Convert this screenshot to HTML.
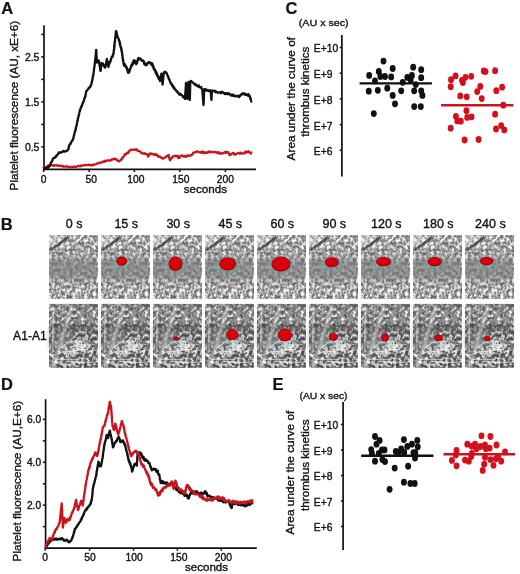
<!DOCTYPE html>
<html><head><meta charset="utf-8"><title>Figure</title>
<style>
html,body{margin:0;padding:0;background:#fff;}
body{width:520px;height:574px;overflow:hidden;}
svg{display:block;filter:blur(0.35px);font-family:"Liberation Sans", sans-serif;}
text{stroke:#111;stroke-width:0.35px;}
text[font-weight=bold]{stroke-width:0.2px;}
</style></head><body>
<svg width="520" height="574" viewBox="0 0 520 574" fill="#111">
<defs><filter id="t1" x="0" y="0" width="100%" height="100%" filterUnits="objectBoundingBox" color-interpolation-filters="sRGB">
<feTurbulence type="fractalNoise" baseFrequency="0.34 0.30" numOctaves="3" seed="3"/>
<feColorMatrix type="matrix" values="1 0 0 0 0  1 0 0 0 0  1 0 0 0 0  0 0 0 0 1"/>
<feComponentTransfer><feFuncR type="table" tableValues="0.36 0.37 0.39 0.43 0.54 0.67 0.84 0.98 1 1 1"/><feFuncG type="table" tableValues="0.36 0.37 0.39 0.43 0.54 0.67 0.84 0.98 1 1 1"/><feFuncB type="table" tableValues="0.36 0.37 0.39 0.43 0.54 0.67 0.84 0.98 1 1 1"/></feComponentTransfer>
<feGaussianBlur stdDeviation="0.3"/>
</filter>
<filter id="t2" x="0" y="0" width="100%" height="100%" filterUnits="objectBoundingBox" color-interpolation-filters="sRGB">
<feTurbulence type="fractalNoise" baseFrequency="0.34 0.30" numOctaves="3" seed="11"/>
<feColorMatrix type="matrix" values="1 0 0 0 0  1 0 0 0 0  1 0 0 0 0  0 0 0 0 1"/>
<feComponentTransfer><feFuncR type="table" tableValues="0.24 0.25 0.27 0.30 0.38 0.50 0.67 0.87 1 1 1"/><feFuncG type="table" tableValues="0.24 0.25 0.27 0.30 0.38 0.50 0.67 0.87 1 1 1"/><feFuncB type="table" tableValues="0.24 0.25 0.27 0.30 0.38 0.50 0.67 0.87 1 1 1"/></feComponentTransfer>
<feGaussianBlur stdDeviation="0.3"/>
</filter>
<filter id="sb" x="-50%" y="-50%" width="200%" height="200%"><feGaussianBlur stdDeviation="1.2"/></filter>
<filter id="sb2" x="-50%" y="-50%" width="200%" height="200%"><feGaussianBlur stdDeviation="2.2"/></filter>
<linearGradient id="band1" x1="0" y1="0" x2="0" y2="1">
<stop offset="0" stop-color="#7a7a7a" stop-opacity="0"/>
<stop offset="0.3" stop-color="#7a7a7a" stop-opacity="0.15"/>
<stop offset="0.4" stop-color="#7c7c7c" stop-opacity="0.62"/>
<stop offset="0.53" stop-color="#7c7c7c" stop-opacity="0.72"/>
<stop offset="0.65" stop-color="#7c7c7c" stop-opacity="0.6"/>
<stop offset="0.76" stop-color="#7a7a7a" stop-opacity="0.12"/>
<stop offset="1" stop-color="#7a7a7a" stop-opacity="0"/>
</linearGradient>
<g id="m1">
<rect width="47.8" height="63.2" filter="url(#t1)"/>
<path d="M0 0 H17 L0 13 Z" fill="#e8e8e8" opacity="0.35"/>
<path d="M1 14.5 L19 1.5" stroke="#333" stroke-width="2.4" opacity="0.75" fill="none"/>
<rect width="47.8" height="63.2" fill="url(#band1)"/>
</g>
<g id="m2">
<rect width="47.8" height="63.6" filter="url(#t2)"/>
<path d="M0 0 H48 V19 H0 Z" fill="#f0f0f0" opacity="0.12"/>
<path d="M0 19 L48 23 L48 29 L0 25 Z" fill="#505050" opacity="0.45" filter="url(#sb)"/>
<path d="M0 25 L26 28 L22 46 L0 44 Z" fill="#7a7a7a" opacity="0.55" filter="url(#sb2)"/>
<path d="M23 0 L4 63" stroke="#ececec" stroke-width="2.6" opacity="0.6" fill="none" filter="url(#sb)"/>
<path d="M3.5 0 L3.5 63" stroke="#e6e6e6" stroke-width="1.6" opacity="0.4" fill="none"/>
<path d="M0 0 H48 V2.5 H0 Z" fill="#555" opacity="0.4" filter="url(#sb)"/>
<path d="M11 44 L19 38 L27 36.5 M30 36 L37 38 L41 43 M13 47.5 L22 46.5 M26 46 L38 45" fill="none" stroke="#fafafa" stroke-width="1.4" opacity="0.6"/>
<path d="M6 55 H30 M22 58 H44 M10 60 H26" stroke="#f4f4f4" stroke-width="1.3" opacity="0.6"/>
<path d="M18.3 45.7 L16.7 44.5 L14.6 44.3 L13.1 43.2 L13.0 41.6 M27.3 43.1 L29.4 43.5 L31.6 43.5 L33.8 43.8 L35.2 42.6 M34.6 39.3 L36.7 39.8 L36.7 41.4 L35.6 42.8 L33.4 43.0 M30.0 36.5 L29.0 37.9 L29.9 39.3 L28.6 40.6 L27.8 42.1 M18.0 47.4 L17.5 49.0 L17.2 50.6 L16.7 52.1 L16.9 53.7 M26.6 38.6 L27.6 40.1 L29.5 40.8 L30.4 42.2 L32.4 42.9 M39.2 48.5 L40.5 47.2 L42.2 46.2 L44.4 45.9 L45.4 44.5 M26.4 47.6 L25.0 48.8 L22.8 48.7 L20.6 48.9 L18.6 49.7 M25.7 41.4 L27.8 40.9 L28.1 39.3 L26.5 38.3 L25.8 36.8 M39.8 42.9 L37.6 42.8 L35.9 41.9 L33.7 41.9 L31.6 41.5 M28.5 44.7 L30.5 45.3 L32.7 45.2 L33.9 46.6 L35.7 47.5 M29.5 40.3 L31.6 39.7 L33.6 40.2 L34.8 41.6 L36.4 42.7 M31.8 45.5 L33.7 46.2 L35.9 46.5 L36.2 48.1 L34.4 49.1 M29.4 48.4 L27.3 48.9 L26.0 50.2 L23.8 50.3 L22.4 51.6 M15.8 47.3 L16.0 45.7 L17.8 44.7 L17.4 43.1 L16.0 41.9 M21.5 41.9 L23.7 41.9 L25.8 41.4 L27.6 42.3 L27.2 43.9 M33.4 42.7 L31.4 43.4 L29.4 44.0 L27.2 43.8 L26.0 45.1 M19.5 47.7 L21.6 47.2 L23.7 46.9 L25.8 46.5 L28.0 46.3 M36.1 40.3 L34.0 40.8 L31.9 40.3 L30.5 41.5 L28.4 42.2 M38.8 36.3 L37.5 35.0 L37.9 33.5 L38.8 32.0 L38.4 30.4 M24.5 49.4 L24.8 47.8 L23.1 46.8 L20.9 47.2 L20.6 48.8 M25.6 38.0 L27.6 37.3 L28.0 35.7 L28.7 34.2 L28.4 32.6" fill="none" stroke="#fff" stroke-width="1.1" opacity="0.75"/>
</g></defs>
<rect width="520" height="574" fill="#fff"/>
<text x="1.2" y="13.5" font-size="16.50" font-weight="bold">A</text>
<text x="18.2" y="190.4" font-size="11.70" textLength="169.5" lengthAdjust="spacingAndGlyphs" transform="rotate(-90 18.2 190.4)">Platelet fluorescence (AU, xE+6)</text>
<line x1="44.0" y1="25.3" x2="44.0" y2="170.2" stroke="#111" stroke-width="1.70"/>
<line x1="43.2" y1="169.4" x2="256.0" y2="169.4" stroke="#111" stroke-width="1.70"/>
<line x1="41.2" y1="146.9" x2="44.0" y2="146.9" stroke="#111" stroke-width="1.50"/>
<line x1="41.2" y1="124.4" x2="44.0" y2="124.4" stroke="#111" stroke-width="1.50"/>
<line x1="41.2" y1="101.9" x2="44.0" y2="101.9" stroke="#111" stroke-width="1.50"/>
<line x1="41.2" y1="79.4" x2="44.0" y2="79.4" stroke="#111" stroke-width="1.50"/>
<line x1="41.2" y1="56.9" x2="44.0" y2="56.9" stroke="#111" stroke-width="1.50"/>
<line x1="41.2" y1="34.4" x2="44.0" y2="34.4" stroke="#111" stroke-width="1.50"/>
<text x="39.4" y="150.6" font-size="10.40" text-anchor="end">0.5</text>
<text x="39.4" y="105.6" font-size="10.40" text-anchor="end">1.5</text>
<text x="39.4" y="60.6" font-size="10.40" text-anchor="end">2.5</text>
<line x1="43.6" y1="169.4" x2="43.6" y2="172.0" stroke="#111" stroke-width="1.50"/>
<text x="43.5" y="183.1" font-size="10.30" text-anchor="middle">0</text>
<line x1="89.2" y1="169.4" x2="89.2" y2="172.0" stroke="#111" stroke-width="1.50"/>
<text x="91.3" y="183.1" font-size="10.30" text-anchor="middle">50</text>
<line x1="134.4" y1="169.4" x2="134.4" y2="172.0" stroke="#111" stroke-width="1.50"/>
<text x="135.9" y="183.1" font-size="10.30" text-anchor="middle">100</text>
<line x1="179.8" y1="169.4" x2="179.8" y2="172.0" stroke="#111" stroke-width="1.50"/>
<text x="180.8" y="183.1" font-size="10.30" text-anchor="middle">150</text>
<line x1="225.4" y1="169.4" x2="225.4" y2="172.0" stroke="#111" stroke-width="1.50"/>
<text x="225.4" y="183.1" font-size="10.30" text-anchor="middle">200</text>
<text x="183.8" y="193.0" font-size="11.00" textLength="43.2" lengthAdjust="spacingAndGlyphs">seconds</text>
<path d="M43.0 168.5 L43.6 167.9 L44.3 167.9 L44.9 167.4 L45.6 167.3 L46.2 166.9 L47.0 166.7 L47.7 165.7 L48.5 165.3 L49.2 165.4 L50.0 165.7 L50.8 165.0 L51.5 164.9 L52.3 165.1 L53.1 165.7 L53.8 165.2 L54.6 165.7 L55.4 165.4 L56.2 165.4 L56.9 165.6 L57.7 165.2 L58.5 165.7 L59.2 166.0 L60.0 165.7 L60.8 165.9 L61.5 166.2 L62.3 166.3 L63.1 165.9 L63.8 166.7 L64.6 166.6 L65.4 166.7 L66.1 166.5 L66.9 166.2 L67.7 167.1 L68.5 166.8 L69.2 167.0 L70.0 167.2 L70.8 166.9 L71.6 167.1 L72.3 167.2 L73.1 166.6 L73.8 167.0 L74.6 166.6 L75.4 167.0 L76.1 166.9 L76.9 166.5 L77.7 166.0 L78.5 165.9 L79.2 165.8 L80.0 166.4 L80.8 165.7 L81.5 165.8 L82.3 165.3 L83.1 165.4 L83.9 165.3 L84.6 165.1 L85.4 165.0 L86.2 165.1 L86.9 165.0 L87.7 165.2 L88.4 164.9 L89.2 164.6 L90.0 165.2 L90.8 165.2 L91.5 165.5 L92.3 165.1 L93.1 165.0 L93.8 164.2 L94.6 164.7 L95.4 164.5 L96.1 164.2 L96.9 163.5 L97.7 163.4 L98.4 163.3 L99.2 162.6 L100.0 163.0 L100.7 162.6 L101.5 162.3 L102.2 161.9 L102.8 161.4 L103.5 162.0 L104.2 161.9 L104.9 160.8 L105.5 161.3 L106.2 160.8 L107.0 160.6 L107.7 160.3 L108.5 160.4 L109.2 160.7 L110.0 160.4 L110.8 160.5 L111.5 159.4 L112.3 159.7 L113.1 159.3 L113.9 158.7 L114.7 159.3 L115.4 158.8 L116.2 158.8 L116.8 159.8 L117.3 160.5 L117.9 160.6 L118.5 161.2 L119.3 161.4 L120.0 160.4 L120.8 160.4 L121.3 159.1 L121.7 159.3 L122.2 157.8 L122.6 157.4 L123.1 157.3 L123.6 156.5 L124.0 156.2 L124.5 154.9 L124.9 154.1 L125.4 154.2 L126.2 154.3 L126.9 152.9 L127.7 152.7 L128.2 152.9 L128.7 152.3 L129.2 151.0 L129.8 150.6 L130.3 150.1 L130.8 149.6 L131.6 149.8 L132.3 149.8 L133.1 149.7 L133.8 149.6 L134.6 149.7 L135.4 150.0 L136.2 149.2 L136.8 149.7 L137.3 150.1 L137.9 151.1 L138.5 151.2 L139.3 151.1 L140.0 151.5 L140.8 152.2 L141.6 153.4 L142.3 153.0 L143.1 153.5 L143.8 153.8 L144.6 153.1 L145.4 153.9 L146.1 154.2 L146.9 154.2 L147.3 154.2 L147.8 155.9 L148.2 156.5 L148.6 156.0 L149.1 154.3 L149.6 154.5 L150.0 153.5 L150.8 153.6 L151.6 154.1 L152.3 153.8 L153.1 154.2 L153.9 154.7 L154.6 155.0 L155.4 154.0 L156.2 155.0 L156.9 154.7 L157.7 156.0 L158.4 156.9 L159.2 156.5 L159.8 156.5 L160.5 157.2 L161.1 157.8 L161.8 157.7 L162.4 158.2 L163.1 158.8 L163.9 158.0 L164.6 157.6 L165.4 157.3 L166.0 157.0 L166.6 156.1 L167.3 155.7 L167.9 155.9 L168.5 155.0 L168.7 154.9 L168.9 156.5 L169.1 157.4 L169.2 157.4 L169.4 157.9 L169.6 159.5 L169.8 159.3 L170.0 160.4 L170.5 159.1 L171.0 158.8 L171.5 158.1 L172.1 158.0 L172.7 156.5 L173.4 156.4 L174.0 156.0 L174.6 155.8 L175.4 156.3 L176.1 155.7 L176.9 156.4 L177.7 155.8 L178.0 156.0 L178.2 157.1 L178.5 158.1 L179.1 157.8 L179.7 157.6 L180.2 156.3 L180.8 155.8 L181.6 155.5 L182.3 155.5 L183.1 156.4 L183.8 156.5 L184.6 155.9 L185.4 156.8 L186.3 156.7 L187.1 155.5 L187.9 155.9 L188.6 155.4 L189.4 156.0 L190.1 155.6 L190.8 155.2 L191.5 155.3 L192.2 154.5 L192.8 153.7 L193.3 152.8 L193.8 152.5 L194.4 152.3 L195.4 152.4 L196.3 151.6 L197.1 151.4 L197.9 151.7 L198.6 152.0 L199.4 152.3 L200.1 152.2 L200.8 152.2 L201.6 153.0 L202.3 151.7 L203.0 151.5 L203.7 153.0 L204.4 152.9 L205.2 153.1 L205.9 152.2 L206.6 152.3 L207.3 152.9 L208.1 152.7 L208.8 151.4 L209.6 152.1 L210.3 151.6 L211.0 152.3 L211.7 152.1 L212.5 152.1 L213.2 151.8 L213.9 152.3 L214.6 152.1 L215.3 152.0 L216.0 151.9 L216.8 152.8 L217.5 152.4 L218.2 153.3 L218.9 152.2 L219.6 153.0 L220.3 153.6 L221.1 153.2 L221.8 153.5 L222.5 153.4 L223.3 153.3 L224.0 152.6 L224.7 152.7 L225.4 151.7 L226.2 152.8 L226.9 151.9 L227.6 152.0 L228.3 152.3 L228.7 153.3 L229.0 153.8 L229.3 154.3 L229.7 155.2 L230.4 155.2 L231.2 153.8 L231.9 153.7 L232.6 153.0 L233.3 153.0 L233.8 153.1 L234.3 154.6 L234.8 154.5 L235.5 154.1 L236.2 154.3 L236.9 153.5 L237.6 153.2 L238.4 152.8 L239.1 153.3 L239.8 153.7 L240.6 152.6 L241.3 153.0 L242.0 153.5 L242.8 153.7 L243.5 153.5 L244.2 153.0 L244.9 153.2 L245.6 151.5 L246.3 152.2 L247.0 151.6 L247.7 152.4 L248.5 151.3 L249.2 152.3 L249.9 152.5 L250.7 153.5 L251.4 152.4 L252.1 152.0" fill="none" stroke="#c8141c" stroke-width="2.3" stroke-linejoin="round"/>
<path d="M43.8 169.0 L44.3 168.5 L44.9 168.2 L45.4 168.5 L46.0 168.0 L46.5 168.3 L47.0 167.5 L47.5 167.5 L48.1 167.8 L48.6 167.0 L49.1 166.8 L49.5 166.3 L50.0 165.4 L50.2 164.6 L50.4 164.4 L50.6 163.6 L50.9 163.0 L51.1 162.4 L51.3 162.0 L51.5 161.8 L51.8 161.8 L52.0 161.1 L52.3 160.6 L52.6 160.0 L52.8 158.8 L53.1 158.6 L53.6 158.0 L54.0 158.1 L54.5 157.9 L54.9 157.7 L55.4 156.9 L55.8 157.0 L56.2 155.6 L56.5 155.8 L56.9 155.5 L57.3 154.9 L57.7 154.5 L58.1 153.6 L58.5 153.4 L58.8 152.4 L59.2 152.3 L59.8 152.8 L60.4 152.7 L60.9 152.4 L61.5 152.3 L62.1 151.7 L62.6 152.0 L63.2 151.3 L63.8 150.8 L64.3 151.5 L64.9 151.7 L65.4 151.5 L65.9 151.3 L66.4 150.9 L66.9 150.8 L67.3 150.5 L67.7 149.9 L68.1 149.2 L68.5 149.2 L68.6 148.4 L68.7 148.5 L68.8 147.0 L68.9 146.5 L69.0 146.6 L69.1 145.7 L69.2 145.4 L69.5 145.0 L69.8 144.4 L70.2 143.8 L70.5 144.2 L70.8 143.1 L71.1 142.2 L71.4 142.0 L71.7 141.3 L71.9 141.3 L72.2 140.4 L72.5 140.0 L72.8 140.0 L73.1 139.2 L73.2 138.4 L73.4 138.2 L73.5 138.0 L73.6 136.5 L73.8 135.9 L73.9 135.5 L74.1 135.6 L74.2 134.9 L74.3 133.9 L74.5 133.5 L74.6 133.1 L74.7 132.1 L74.9 131.9 L75.0 130.9 L75.2 131.1 L75.3 130.8 L75.5 130.3 L75.6 129.4 L75.8 129.1 L75.9 127.4 L76.1 127.2 L76.2 126.9 L76.3 126.9 L76.4 126.1 L76.6 125.1 L76.7 125.2 L76.8 124.2 L76.9 123.9 L77.0 122.7 L77.2 122.0 L77.3 121.8 L77.4 120.8 L77.5 120.6 L77.7 120.7 L77.8 119.4 L77.9 118.4 L78.0 117.9 L78.1 117.5 L78.3 117.7 L78.4 116.6 L78.5 116.2 L78.6 115.4 L78.8 114.7 L78.9 115.2 L79.1 114.0 L79.2 113.2 L79.4 112.5 L79.5 111.9 L79.7 111.6 L79.8 111.6 L79.9 110.5 L80.1 109.8 L80.2 109.8 L80.4 109.0 L80.5 109.4 L80.7 107.8 L80.8 107.7 L81.0 107.2 L81.3 107.0 L81.5 106.0 L81.8 106.2 L82.0 105.1 L82.3 104.6 L82.5 103.7 L82.7 103.4 L82.9 102.4 L83.2 102.3 L83.4 101.6 L83.6 101.8 L83.8 100.8 L84.0 100.6 L84.2 99.6 L84.4 98.5 L84.6 98.2 L84.8 97.6 L85.0 97.0 L85.2 96.5 L85.4 96.2 L85.5 96.1 L85.6 94.7 L85.7 94.0 L85.8 94.5 L85.8 93.5 L85.9 93.5 L86.0 92.2 L86.1 92.2 L86.2 91.2 L86.7 90.9 L87.1 90.5 L87.5 90.0 L88.0 89.2 L88.4 88.7 L88.8 87.7 L89.2 87.4 L89.6 87.7 L90.0 87.3 L90.4 86.3 L90.6 86.2 L90.8 85.0 L91.1 84.8 L91.3 84.4 L91.5 83.5 L91.6 83.1 L91.7 82.8 L91.8 81.9 L91.9 81.5 L92.1 81.0 L92.2 80.0 L92.3 80.2 L92.4 79.7 L92.5 78.1 L92.6 78.7 L92.7 78.1 L92.8 77.2 L92.9 75.9 L93.1 76.4 L93.2 75.0 L93.3 75.4 L93.4 74.5 L93.5 73.8 L93.6 72.7 L93.6 72.3 L93.7 72.3 L93.8 71.7 L93.8 71.4 L93.9 71.0 L94.0 69.6 L94.0 68.8 L94.1 69.4 L94.2 67.8 L94.2 68.2 L94.3 66.8 L94.4 67.1 L94.5 66.5 L94.5 66.1 L94.6 65.1 L94.7 65.0 L94.7 63.6 L94.8 63.6 L94.9 62.7 L94.9 62.8 L95.0 62.1 L95.1 61.2 L95.1 60.7 L95.2 59.0 L95.3 58.5 L95.3 59.3 L95.4 58.5 L95.5 57.9 L95.5 58.2 L95.6 57.0 L95.6 55.3 L95.7 55.3 L95.7 55.7 L95.8 54.5 L95.8 52.7 L95.9 54.1 L95.9 53.5 L96.0 51.1 L96.0 51.6 L96.1 50.7 L96.1 51.1 L96.2 49.8 L96.2 49.9 L96.3 50.3 L96.3 51.5 L96.3 53.2 L96.4 51.7 L96.4 52.3 L96.4 54.1 L96.5 55.3 L96.5 54.9 L96.5 55.3 L96.6 56.9 L96.6 57.3 L96.6 56.1 L96.6 58.7 L96.7 57.6 L96.7 58.4 L96.7 60.3 L96.8 59.8 L96.8 61.3 L96.8 60.4 L96.9 62.6 L96.9 62.3 L97.4 61.0 L97.8 60.5 L98.2 60.9 L98.7 60.4 L98.8 60.6 L98.9 61.6 L99.0 63.0 L99.1 63.1 L99.2 62.0 L99.3 63.3 L99.4 64.4 L99.5 64.8 L99.6 65.9 L99.7 65.9 L99.8 65.5 L99.9 66.5 L100.0 68.5 L100.1 67.9 L100.2 69.4 L100.3 70.5 L100.4 70.2 L100.5 70.9 L100.6 71.0 L100.7 70.7 L100.7 69.5 L100.8 70.3 L100.9 68.7 L100.9 69.2 L101.0 67.2 L101.0 68.0 L101.1 67.3 L101.2 66.3 L101.2 65.4 L101.3 64.1 L101.4 65.1 L101.4 63.5 L101.5 63.3 L101.9 64.1 L102.3 63.2 L102.7 63.4 L103.1 64.0 L103.5 65.2 L104.0 66.4 L104.5 65.4 L104.9 67.6 L105.4 67.1 L105.5 66.2 L105.6 66.2 L105.7 65.1 L105.9 65.2 L106.0 63.4 L106.1 63.6 L106.2 64.3 L106.3 61.9 L106.4 62.5 L106.5 61.2 L106.7 60.6 L106.8 59.4 L106.9 58.8 L107.0 59.4 L107.1 61.0 L107.2 61.3 L107.3 61.8 L107.4 62.4 L107.5 63.3 L107.7 62.0 L107.8 63.6 L107.9 63.9 L108.0 64.7 L108.1 66.1 L108.2 66.3 L108.3 66.2 L108.5 66.8 L108.7 64.2 L108.9 64.9 L109.1 64.4 L109.3 64.0 L109.5 63.2 L109.8 63.1 L110.0 61.3 L110.2 62.3 L110.4 60.5 L110.6 60.4 L110.8 60.6 L111.0 59.5 L111.2 58.5 L111.5 57.5 L111.7 56.8 L112.0 56.5 L112.2 56.7 L112.5 57.0 L112.7 56.3 L113.0 54.5 L113.2 54.0 L113.5 53.7 L113.6 53.9 L113.6 52.1 L113.7 51.8 L113.8 50.3 L113.8 50.2 L113.9 50.5 L113.9 50.3 L114.0 49.5 L114.1 48.4 L114.1 49.2 L114.2 47.9 L114.2 46.2 L114.3 45.4 L114.4 47.1 L114.4 46.5 L114.5 45.8 L114.6 44.5 L114.6 43.3 L114.7 42.2 L114.8 42.0 L114.8 41.4 L114.9 42.5 L114.9 41.9 L115.0 41.0 L115.1 39.0 L115.1 38.6 L115.2 38.2 L115.2 39.2 L115.3 36.8 L115.4 37.7 L115.4 36.9 L115.5 36.1 L115.6 36.5 L115.6 34.3 L115.7 34.3 L115.8 32.9 L115.8 32.2 L115.9 31.5 L115.9 31.6 L116.0 31.5 L116.2 31.1 L116.4 31.5 L116.6 34.3 L116.8 33.2 L117.0 35.2 L117.2 35.3 L117.4 35.9 L117.6 36.3 L117.8 37.5 L118.0 37.9 L118.2 38.1 L118.4 38.2 L118.6 39.1 L118.8 39.2 L118.9 40.3 L119.1 40.4 L119.2 40.9 L119.4 40.6 L119.5 42.8 L119.6 42.5 L119.8 42.0 L119.9 42.8 L120.0 45.1 L120.2 44.1 L120.3 45.0 L120.5 46.3 L120.6 47.2 L120.7 46.5 L120.9 47.2 L121.0 47.9 L121.1 47.5 L121.3 50.0 L121.4 48.5 L121.6 51.4 L121.7 50.8 L121.8 50.5 L121.9 51.1 L122.0 53.3 L122.0 53.8 L122.1 52.9 L122.2 54.3 L122.3 54.7 L122.4 55.8 L122.5 55.1 L122.5 57.2 L122.6 58.1 L122.7 58.0 L122.8 59.1 L122.9 59.7 L123.0 58.9 L123.0 60.6 L123.1 61.1 L123.2 61.1 L123.3 60.5 L123.4 62.3 L123.5 63.5 L123.5 62.6 L123.6 64.0 L123.7 64.2 L124.1 65.6 L124.5 65.3 L124.9 64.3 L125.3 66.2 L125.7 65.7 L126.1 67.5 L126.5 67.1 L126.7 68.0 L126.9 67.7 L127.0 69.6 L127.2 69.5 L127.4 69.4 L127.6 71.1 L127.8 71.7 L128.0 72.3 L128.1 72.8 L128.3 72.8 L128.5 72.9 L128.7 72.9 L128.9 72.1 L129.1 71.4 L129.4 72.0 L129.6 70.0 L129.8 68.8 L130.0 69.8 L130.2 68.8 L130.4 68.4 L130.7 68.0 L130.9 66.6 L131.1 66.0 L131.3 66.2 L131.6 64.6 L131.8 65.8 L132.1 65.6 L132.4 64.6 L132.6 62.6 L132.9 64.2 L133.1 63.3 L133.4 62.0 L133.7 60.3 L133.9 61.8 L134.2 60.4 L134.5 61.2 L134.8 61.8 L135.1 60.9 L135.3 63.1 L135.6 62.0 L135.9 63.6 L136.2 64.2 L136.4 62.8 L136.6 62.8 L136.8 63.6 L137.0 62.7 L137.2 62.4 L137.4 60.6 L137.6 60.3 L137.8 60.3 L138.0 58.4 L138.2 58.8 L138.4 59.7 L138.6 58.0 L139.2 58.9 L139.8 59.5 L140.4 58.4 L141.0 59.2 L141.4 60.1 L141.8 60.7 L142.2 60.9 L142.6 60.6 L143.0 60.4 L143.4 61.6 L143.7 61.0 L144.1 63.6 L144.4 64.2 L144.8 63.1 L145.1 64.8 L145.5 64.5 L145.8 65.2 L146.2 65.1 L146.6 65.2 L147.0 63.6 L147.4 63.9 L147.8 62.6 L148.2 62.8 L148.8 63.0 L149.4 61.9 L150.0 62.6 L150.6 62.8 L151.2 64.5 L151.8 63.6 L152.0 63.2 L152.3 65.3 L152.5 64.2 L152.8 66.8 L153.0 65.4 L153.2 65.7 L153.5 66.5 L153.7 68.8 L154.0 68.7 L154.2 68.8 L154.5 70.3 L154.7 69.8 L155.0 69.4 L155.2 70.5 L155.5 71.3 L155.7 73.1 L156.0 71.6 L156.3 72.3 L156.5 74.3 L156.8 73.0 L157.0 75.6 L157.3 74.5 L157.5 75.6 L157.8 76.0 L158.1 76.9 L158.3 78.1 L158.6 76.6 L158.9 79.0 L159.1 78.0 L159.4 79.8 L159.7 78.7 L159.9 81.0 L160.2 80.9 L160.3 79.8 L160.4 79.3 L160.5 78.4 L160.6 78.4 L160.7 77.8 L160.8 78.4 L160.8 77.2 L160.9 76.2 L161.0 76.8 L161.1 74.8 L161.2 74.3 L161.3 75.1 L161.4 73.7 L161.5 75.1 L161.5 75.2 L161.6 76.3 L161.7 75.2 L161.7 77.3 L161.8 77.5 L161.8 78.0 L161.9 78.9 L162.0 78.1 L162.0 78.8 L162.1 79.3 L162.2 80.5 L162.2 81.2 L162.3 81.7 L162.3 82.0 L162.4 83.2 L162.5 84.0 L162.5 84.4 L162.6 84.5 L162.7 83.1 L162.7 82.7 L162.8 82.3 L162.8 81.7 L162.9 81.8 L162.9 80.5 L163.0 80.7 L163.1 79.6 L163.1 79.1 L163.2 79.2 L163.2 79.0 L163.3 77.1 L163.3 76.8 L163.4 77.4 L163.5 75.4 L163.5 74.5 L163.6 74.2 L163.6 74.8 L163.7 74.1 L163.7 73.9 L163.8 72.5 L164.4 72.5 L165.1 71.7 L165.7 72.2 L166.3 72.5 L166.5 73.4 L166.7 73.4 L167.0 73.5 L167.2 74.5 L167.4 75.2 L167.6 75.5 L167.8 76.2 L168.0 76.2 L168.3 76.6 L168.5 78.5 L168.7 78.5 L169.0 79.5 L169.2 79.4 L169.5 79.4 L169.7 80.3 L170.0 81.3 L170.2 82.4 L170.5 82.2 L170.7 83.6 L171.0 83.3 L171.3 83.8 L171.6 83.7 L171.9 85.0 L172.2 85.5 L172.5 86.0 L172.8 86.7 L173.2 85.9 L173.5 87.2 L173.8 88.3 L174.1 87.6 L174.4 88.0 L174.7 89.3 L175.1 89.1 L175.5 89.7 L175.9 90.4 L176.3 90.6 L176.7 91.5 L177.1 91.1 L177.5 91.8 L177.9 92.8 L178.3 92.9 L178.8 93.3 L179.3 94.4 L179.8 94.7 L180.4 93.8 L180.9 94.3 L181.4 95.0 L181.9 95.3 L182.3 95.8 L182.7 95.9 L183.1 97.2 L183.5 96.4 L183.9 97.2 L184.3 97.7 L184.7 97.6 L185.0 98.9 L185.0 99.0 L185.1 98.0 L185.1 98.1 L185.1 96.0 L185.2 96.5 L185.2 95.7 L185.2 94.2 L185.3 95.0 L185.3 94.6 L185.4 92.6 L185.4 93.6 L185.4 92.7 L185.5 91.8 L185.5 91.2 L185.5 90.1 L185.6 89.2 L185.6 89.4 L185.6 89.5 L185.7 87.8 L185.7 87.7 L185.8 86.8 L185.8 87.0 L185.8 86.9 L185.9 86.2 L185.9 84.6 L185.9 84.3 L186.0 83.0 L186.0 83.3 L186.1 83.9 L186.1 85.1 L186.2 85.6 L186.2 84.8 L186.2 86.0 L186.3 85.9 L186.3 87.1 L186.4 88.5 L186.4 87.9 L186.5 89.5 L186.6 90.2 L186.6 90.6 L186.7 90.0 L186.7 91.9 L186.8 92.4 L186.8 93.1 L186.8 91.9 L186.9 92.4 L187.0 93.5 L187.0 94.5 L187.1 94.9 L187.1 94.8 L187.2 96.4 L187.2 97.0 L187.2 97.5 L187.3 97.8 L187.3 98.4 L187.4 98.9 L187.4 98.7 L187.5 97.0 L187.5 97.1 L187.5 96.0 L187.6 95.4 L187.6 96.0 L187.6 94.6 L187.7 94.1 L187.7 93.4 L187.7 93.4 L187.8 92.0 L187.8 92.4 L187.8 90.8 L187.9 91.8 L187.9 89.8 L187.9 90.4 L188.0 89.4 L188.0 88.6 L188.0 87.8 L188.1 87.4 L188.1 87.5 L188.1 86.6 L188.2 86.0 L188.2 84.9 L188.2 85.0 L188.3 83.7 L188.3 83.7 L188.3 83.4 L188.4 82.6 L188.4 82.0 L188.4 82.7 L188.5 83.3 L188.5 83.1 L188.6 85.1 L188.6 85.1 L188.7 85.8 L188.7 86.8 L188.8 86.4 L188.8 86.8 L188.8 87.3 L188.9 87.9 L188.9 88.4 L189.0 89.0 L189.0 89.4 L189.1 90.4 L189.1 90.6 L189.1 91.3 L189.2 92.4 L189.2 92.4 L189.3 93.9 L189.3 94.3 L189.4 94.1 L189.4 95.5 L189.5 94.9 L189.5 95.3 L189.5 97.5 L189.6 96.3 L189.6 96.9 L189.7 99.0 L189.7 98.0 L189.8 99.7 L189.8 100.0 L189.8 99.6 L189.8 98.4 L189.8 97.9 L189.9 98.6 L189.9 97.1 L189.9 96.2 L189.9 96.0 L189.9 96.0 L189.9 94.7 L189.9 93.8 L190.0 94.5 L190.0 92.7 L190.0 92.0 L190.0 91.4 L190.0 92.6 L190.0 91.1 L190.1 91.1 L190.1 90.2 L190.1 90.4 L190.1 88.7 L190.1 88.2 L190.1 88.2 L190.1 86.5 L190.2 86.6 L190.2 86.7 L190.2 85.8 L190.2 85.1 L190.2 85.4 L190.2 83.9 L190.2 83.9 L190.3 82.8 L190.3 81.7 L190.3 81.6 L190.3 81.3 L190.8 81.1 L191.3 81.0 L191.8 81.8 L192.4 81.8 L192.9 82.7 L193.4 83.4 L193.9 83.3 L194.4 84.1 L194.9 84.7 L195.4 84.0 L196.0 85.0 L196.5 85.7 L197.0 85.2 L197.5 85.7 L198.1 86.6 L198.7 85.4 L199.3 87.1 L199.9 87.2 L200.5 87.6 L201.1 86.9 L201.4 88.1 L201.7 88.5 L202.0 88.6 L202.3 89.3 L202.3 90.3 L202.4 91.1 L202.4 91.1 L202.5 91.8 L202.5 92.9 L202.6 92.3 L202.6 92.9 L202.6 92.9 L202.7 95.0 L202.7 95.1 L202.8 95.8 L202.8 95.6 L202.9 96.0 L202.9 97.1 L202.9 98.4 L203.0 98.0 L203.0 98.7 L203.1 99.2 L203.1 100.6 L203.2 99.8 L203.2 101.7 L203.2 100.8 L203.3 102.6 L203.3 103.2 L203.4 103.3 L203.4 104.3 L203.5 104.0 L203.5 105.0 L203.5 103.8 L203.6 103.6 L203.6 102.9 L203.6 103.1 L203.6 102.3 L203.7 101.9 L203.7 101.9 L203.7 101.0 L203.7 100.5 L203.8 100.2 L203.8 99.6 L203.8 98.7 L203.8 97.4 L203.8 97.2 L203.9 97.0 L203.9 96.5 L203.9 96.2 L203.9 95.3 L204.0 94.7 L204.0 93.3 L204.0 93.4 L204.0 92.1 L204.1 92.4 L204.1 91.0 L204.1 90.1 L204.1 91.2 L204.2 90.5 L204.2 89.3 L204.8 89.2 L205.4 89.0 L205.9 90.6 L206.5 90.7 L207.1 90.5 L207.7 89.9 L208.3 91.1 L208.9 91.1 L209.5 90.6 L210.1 90.1 L210.7 90.5 L210.7 90.3 L210.8 90.8 L210.8 92.1 L210.9 93.1 L210.9 93.5 L210.9 93.4 L211.0 94.9 L211.0 94.2 L211.1 95.7 L211.1 95.5 L211.2 95.8 L211.2 96.7 L211.2 98.3 L211.3 97.8 L211.3 98.0 L211.4 99.4 L211.4 100.0 L211.4 99.2 L211.5 99.0 L211.5 98.5 L211.5 98.1 L211.6 97.9 L211.6 96.3 L211.6 96.3 L211.7 94.8 L211.7 94.5 L211.7 93.6 L211.7 94.5 L211.8 93.0 L211.8 93.1 L211.8 92.8 L211.9 91.4 L211.9 91.0 L212.5 90.6 L213.1 90.7 L213.7 91.2 L214.3 91.1 L214.9 90.7 L215.5 92.2 L216.1 91.9 L216.7 91.7 L217.3 92.5 L217.8 92.5 L218.4 92.4 L218.9 92.7 L219.5 92.5 L220.0 92.1 L220.6 92.9 L221.1 93.2 L221.7 91.8 L222.2 92.0 L222.8 92.1 L223.3 92.7 L223.9 92.9 L224.5 93.7 L225.0 93.2 L225.6 94.0 L226.1 93.2 L226.7 93.7 L227.3 93.3 L227.8 94.2 L228.4 93.7 L229.0 93.3 L229.5 94.2 L230.1 94.6 L230.6 95.3 L231.2 94.8 L231.8 94.5 L232.3 95.8 L232.9 95.7 L233.4 94.6 L234.0 95.9 L234.6 96.3 L235.1 96.4 L235.7 96.1 L236.2 95.6 L236.8 96.0 L237.4 96.3 L237.9 96.4 L238.5 95.7 L239.0 97.1 L239.6 96.5 L240.0 96.2 L240.5 95.0 L240.9 95.0 L241.4 94.2 L241.8 94.5 L242.3 93.4 L242.8 93.8 L243.2 93.4 L243.7 93.2 L244.2 94.4 L244.7 94.5 L245.3 93.6 L245.8 95.0 L246.3 94.7 L246.8 94.8 L247.4 94.5 L248.0 95.8 L248.6 94.3 L249.2 95.3 L249.4 95.7 L249.6 96.6 L249.9 96.3 L250.1 97.5 L250.3 98.7 L250.5 98.3 L250.7 99.5 L250.9 99.1 L251.2 101.1 L251.4 101.6 L251.6 101.3" fill="none" stroke="#111" stroke-width="2.3" stroke-linejoin="round"/>
<text x="285.4" y="13.6" font-size="16.50" font-weight="bold">C</text>
<text x="298.8" y="26.1" font-size="9.70" textLength="49.8" lengthAdjust="spacingAndGlyphs">(AU x sec)</text>
<line x1="341.9" y1="35.0" x2="341.9" y2="176.5" stroke="#111" stroke-width="1.70"/>
<line x1="339.7" y1="47.5" x2="341.9" y2="47.5" stroke="#111" stroke-width="1.50"/>
<text x="313.8" y="52.4" font-size="10.30">E+10</text>
<line x1="339.7" y1="73.2" x2="341.9" y2="73.2" stroke="#111" stroke-width="1.50"/>
<text x="313.8" y="78.1" font-size="10.30">E+9</text>
<line x1="339.7" y1="98.9" x2="341.9" y2="98.9" stroke="#111" stroke-width="1.50"/>
<text x="313.8" y="103.8" font-size="10.30">E+8</text>
<line x1="339.7" y1="124.6" x2="341.9" y2="124.6" stroke="#111" stroke-width="1.50"/>
<text x="313.8" y="129.5" font-size="10.30">E+7</text>
<line x1="339.7" y1="150.3" x2="341.9" y2="150.3" stroke="#111" stroke-width="1.50"/>
<text x="313.8" y="155.2" font-size="10.30">E+6</text>
<text x="294.6" y="160.4" font-size="11.60" textLength="123.4" lengthAdjust="spacingAndGlyphs" transform="rotate(-90 294.6 160.4)">Area under the curve of</text>
<text x="308.6" y="136.8" font-size="11.60" textLength="90.1" lengthAdjust="spacingAndGlyphs" transform="rotate(-90 308.6 136.8)">thrombus kinetics</text>
<ellipse cx="369.2" cy="75.4" rx="2.95" ry="3.4" fill="#111"/>
<ellipse cx="368.8" cy="91.2" rx="2.95" ry="3.4" fill="#111"/>
<ellipse cx="373.8" cy="113.6" rx="2.95" ry="3.4" fill="#111"/>
<ellipse cx="375.0" cy="80.8" rx="2.95" ry="3.4" fill="#111"/>
<ellipse cx="377.8" cy="90.3" rx="2.95" ry="3.4" fill="#111"/>
<ellipse cx="378.8" cy="71.5" rx="2.95" ry="3.4" fill="#111"/>
<ellipse cx="380.4" cy="76.5" rx="2.95" ry="3.4" fill="#111"/>
<ellipse cx="383.5" cy="61.1" rx="2.95" ry="3.4" fill="#111"/>
<ellipse cx="385.0" cy="76.5" rx="2.95" ry="3.4" fill="#111"/>
<ellipse cx="387.3" cy="88.2" rx="2.95" ry="3.4" fill="#111"/>
<ellipse cx="391.2" cy="76.9" rx="2.95" ry="3.4" fill="#111"/>
<ellipse cx="392.7" cy="68.5" rx="2.95" ry="3.4" fill="#111"/>
<ellipse cx="392.7" cy="95.4" rx="2.95" ry="3.4" fill="#111"/>
<ellipse cx="395.0" cy="103.8" rx="2.95" ry="3.4" fill="#111"/>
<ellipse cx="401.2" cy="90.8" rx="2.95" ry="3.4" fill="#111"/>
<ellipse cx="402.7" cy="82.3" rx="2.95" ry="3.4" fill="#111"/>
<ellipse cx="407.3" cy="77.4" rx="2.95" ry="3.4" fill="#111"/>
<ellipse cx="411.9" cy="75.4" rx="2.95" ry="3.4" fill="#111"/>
<ellipse cx="413.2" cy="67.2" rx="2.95" ry="3.4" fill="#111"/>
<ellipse cx="414.2" cy="90.8" rx="2.95" ry="3.4" fill="#111"/>
<ellipse cx="414.2" cy="106.6" rx="2.95" ry="3.4" fill="#111"/>
<ellipse cx="415.8" cy="84.6" rx="2.95" ry="3.4" fill="#111"/>
<ellipse cx="421.2" cy="69.7" rx="2.95" ry="3.4" fill="#111"/>
<ellipse cx="421.2" cy="77.7" rx="2.95" ry="3.4" fill="#111"/>
<ellipse cx="421.2" cy="90.8" rx="2.95" ry="3.4" fill="#111"/>
<ellipse cx="422.4" cy="95.4" rx="2.95" ry="3.4" fill="#111"/>
<ellipse cx="420.8" cy="106.6" rx="2.95" ry="3.4" fill="#111"/>
<ellipse cx="410.7" cy="80.0" rx="2.95" ry="3.4" fill="#111"/>
<line x1="359.6" y1="83.4" x2="431.9" y2="83.4" stroke="#111" stroke-width="2.40"/>
<ellipse cx="451.0" cy="79.7" rx="2.95" ry="3.4" fill="#d4101a"/>
<ellipse cx="450.7" cy="86.7" rx="2.95" ry="3.4" fill="#d4101a"/>
<ellipse cx="455.6" cy="75.9" rx="2.95" ry="3.4" fill="#d4101a"/>
<ellipse cx="460.3" cy="95.9" rx="2.95" ry="3.4" fill="#d4101a"/>
<ellipse cx="462.0" cy="80.3" rx="2.95" ry="3.4" fill="#d4101a"/>
<ellipse cx="462.9" cy="82.5" rx="2.95" ry="3.4" fill="#d4101a"/>
<ellipse cx="465.5" cy="77.3" rx="2.95" ry="3.4" fill="#d4101a"/>
<ellipse cx="466.7" cy="96.8" rx="2.95" ry="3.4" fill="#d4101a"/>
<ellipse cx="471.2" cy="76.3" rx="2.95" ry="3.4" fill="#d4101a"/>
<ellipse cx="466.4" cy="110.7" rx="2.95" ry="3.4" fill="#d4101a"/>
<ellipse cx="467.2" cy="117.4" rx="2.95" ry="3.4" fill="#d4101a"/>
<ellipse cx="471.6" cy="116.8" rx="2.95" ry="3.4" fill="#d4101a"/>
<ellipse cx="455.9" cy="116.3" rx="2.95" ry="3.4" fill="#d4101a"/>
<ellipse cx="457.3" cy="120.9" rx="2.95" ry="3.4" fill="#d4101a"/>
<ellipse cx="460.8" cy="121.2" rx="2.95" ry="3.4" fill="#d4101a"/>
<ellipse cx="450.7" cy="128.2" rx="2.95" ry="3.4" fill="#d4101a"/>
<ellipse cx="464.6" cy="140.0" rx="2.95" ry="3.4" fill="#d4101a"/>
<ellipse cx="478.6" cy="139.5" rx="2.95" ry="3.4" fill="#d4101a"/>
<ellipse cx="477.2" cy="91.6" rx="2.95" ry="3.4" fill="#d4101a"/>
<ellipse cx="480.3" cy="86.4" rx="2.95" ry="3.4" fill="#d4101a"/>
<ellipse cx="481.7" cy="98.6" rx="2.95" ry="3.4" fill="#d4101a"/>
<ellipse cx="483.8" cy="71.0" rx="2.95" ry="3.4" fill="#d4101a"/>
<ellipse cx="485.5" cy="71.6" rx="2.95" ry="3.4" fill="#d4101a"/>
<ellipse cx="495.1" cy="70.7" rx="2.95" ry="3.4" fill="#d4101a"/>
<ellipse cx="496.3" cy="90.7" rx="2.95" ry="3.4" fill="#d4101a"/>
<ellipse cx="502.1" cy="87.2" rx="2.95" ry="3.4" fill="#d4101a"/>
<ellipse cx="503.3" cy="105.2" rx="2.95" ry="3.4" fill="#d4101a"/>
<ellipse cx="495.1" cy="114.2" rx="2.95" ry="3.4" fill="#d4101a"/>
<ellipse cx="496.0" cy="129.0" rx="2.95" ry="3.4" fill="#d4101a"/>
<ellipse cx="501.2" cy="125.6" rx="2.95" ry="3.4" fill="#d4101a"/>
<ellipse cx="504.3" cy="129.9" rx="2.95" ry="3.4" fill="#d4101a"/>
<line x1="441.1" y1="105.2" x2="513.4" y2="105.2" stroke="#c8141c" stroke-width="2.40"/>
<text x="272.6" y="390.3" font-size="16.50" font-weight="bold">E</text>
<text x="299.5" y="399.0" font-size="9.70" textLength="48.0" lengthAdjust="spacingAndGlyphs">(AU x sec)</text>
<line x1="343.1" y1="402.0" x2="343.1" y2="550.0" stroke="#111" stroke-width="1.70"/>
<line x1="340.9" y1="424.5" x2="343.1" y2="424.5" stroke="#111" stroke-width="1.50"/>
<text x="313.8" y="429.4" font-size="10.30">E+10</text>
<line x1="340.9" y1="450.0" x2="343.1" y2="450.0" stroke="#111" stroke-width="1.50"/>
<text x="313.8" y="454.9" font-size="10.30">E+9</text>
<line x1="340.9" y1="475.5" x2="343.1" y2="475.5" stroke="#111" stroke-width="1.50"/>
<text x="313.8" y="480.4" font-size="10.30">E+8</text>
<line x1="340.9" y1="501.0" x2="343.1" y2="501.0" stroke="#111" stroke-width="1.50"/>
<text x="313.8" y="505.9" font-size="10.30">E+7</text>
<line x1="340.9" y1="526.5" x2="343.1" y2="526.5" stroke="#111" stroke-width="1.50"/>
<text x="313.8" y="531.4" font-size="10.30">E+6</text>
<text x="294.4" y="534.5" font-size="11.60" textLength="123.8" lengthAdjust="spacingAndGlyphs" transform="rotate(-90 294.4 534.5)">Area under the curve of</text>
<text x="309.0" y="511.0" font-size="11.60" textLength="91.6" lengthAdjust="spacingAndGlyphs" transform="rotate(-90 309.0 511.0)">thrombus kinetics</text>
<ellipse cx="375.0" cy="436.5" rx="2.95" ry="3.4" fill="#111"/>
<ellipse cx="379.6" cy="440.4" rx="2.95" ry="3.4" fill="#111"/>
<ellipse cx="376.5" cy="444.2" rx="2.95" ry="3.4" fill="#111"/>
<ellipse cx="371.2" cy="449.6" rx="2.95" ry="3.4" fill="#111"/>
<ellipse cx="371.9" cy="453.5" rx="2.95" ry="3.4" fill="#111"/>
<ellipse cx="378.8" cy="453.5" rx="2.95" ry="3.4" fill="#111"/>
<ellipse cx="381.9" cy="449.9" rx="2.95" ry="3.4" fill="#111"/>
<ellipse cx="384.5" cy="449.9" rx="2.95" ry="3.4" fill="#111"/>
<ellipse cx="375.0" cy="461.2" rx="2.95" ry="3.4" fill="#111"/>
<ellipse cx="382.4" cy="459.6" rx="2.95" ry="3.4" fill="#111"/>
<ellipse cx="385.0" cy="461.6" rx="2.95" ry="3.4" fill="#111"/>
<ellipse cx="394.7" cy="468.1" rx="2.95" ry="3.4" fill="#111"/>
<ellipse cx="395.8" cy="451.5" rx="2.95" ry="3.4" fill="#111"/>
<ellipse cx="398.8" cy="452.4" rx="2.95" ry="3.4" fill="#111"/>
<ellipse cx="401.2" cy="448.8" rx="2.95" ry="3.4" fill="#111"/>
<ellipse cx="403.9" cy="439.6" rx="2.95" ry="3.4" fill="#111"/>
<ellipse cx="404.2" cy="452.4" rx="2.95" ry="3.4" fill="#111"/>
<ellipse cx="407.3" cy="446.5" rx="2.95" ry="3.4" fill="#111"/>
<ellipse cx="408.1" cy="466.2" rx="2.95" ry="3.4" fill="#111"/>
<ellipse cx="403.9" cy="482.2" rx="2.95" ry="3.4" fill="#111"/>
<ellipse cx="410.4" cy="483.5" rx="2.95" ry="3.4" fill="#111"/>
<ellipse cx="414.7" cy="483.5" rx="2.95" ry="3.4" fill="#111"/>
<ellipse cx="411.9" cy="444.2" rx="2.95" ry="3.4" fill="#111"/>
<ellipse cx="417.3" cy="440.4" rx="2.95" ry="3.4" fill="#111"/>
<ellipse cx="417.8" cy="446.8" rx="2.95" ry="3.4" fill="#111"/>
<ellipse cx="413.5" cy="452.7" rx="2.95" ry="3.4" fill="#111"/>
<ellipse cx="415.0" cy="458.1" rx="2.95" ry="3.4" fill="#111"/>
<ellipse cx="389.6" cy="489.3" rx="2.95" ry="3.4" fill="#111"/>
<ellipse cx="415.3" cy="452.7" rx="2.95" ry="3.4" fill="#111"/>
<line x1="361.2" y1="455.8" x2="433.5" y2="455.8" stroke="#111" stroke-width="2.40"/>
<ellipse cx="481.5" cy="435.8" rx="2.95" ry="3.4" fill="#d4101a"/>
<ellipse cx="490.4" cy="436.5" rx="2.95" ry="3.4" fill="#d4101a"/>
<ellipse cx="467.3" cy="444.2" rx="2.95" ry="3.4" fill="#d4101a"/>
<ellipse cx="471.9" cy="446.2" rx="2.95" ry="3.4" fill="#d4101a"/>
<ellipse cx="475.0" cy="444.2" rx="2.95" ry="3.4" fill="#d4101a"/>
<ellipse cx="476.5" cy="448.8" rx="2.95" ry="3.4" fill="#d4101a"/>
<ellipse cx="480.4" cy="446.5" rx="2.95" ry="3.4" fill="#d4101a"/>
<ellipse cx="485.0" cy="445.0" rx="2.95" ry="3.4" fill="#d4101a"/>
<ellipse cx="485.8" cy="448.8" rx="2.95" ry="3.4" fill="#d4101a"/>
<ellipse cx="489.6" cy="448.1" rx="2.95" ry="3.4" fill="#d4101a"/>
<ellipse cx="496.5" cy="445.0" rx="2.95" ry="3.4" fill="#d4101a"/>
<ellipse cx="456.5" cy="450.4" rx="2.95" ry="3.4" fill="#d4101a"/>
<ellipse cx="455.8" cy="455.0" rx="2.95" ry="3.4" fill="#d4101a"/>
<ellipse cx="471.9" cy="453.5" rx="2.95" ry="3.4" fill="#d4101a"/>
<ellipse cx="505.0" cy="451.9" rx="2.95" ry="3.4" fill="#d4101a"/>
<ellipse cx="451.9" cy="460.4" rx="2.95" ry="3.4" fill="#d4101a"/>
<ellipse cx="456.5" cy="465.8" rx="2.95" ry="3.4" fill="#d4101a"/>
<ellipse cx="465.0" cy="460.1" rx="2.95" ry="3.4" fill="#d4101a"/>
<ellipse cx="468.8" cy="461.2" rx="2.95" ry="3.4" fill="#d4101a"/>
<ellipse cx="471.2" cy="456.5" rx="2.95" ry="3.4" fill="#d4101a"/>
<ellipse cx="485.0" cy="457.3" rx="2.95" ry="3.4" fill="#d4101a"/>
<ellipse cx="484.2" cy="464.2" rx="2.95" ry="3.4" fill="#d4101a"/>
<ellipse cx="482.7" cy="470.4" rx="2.95" ry="3.4" fill="#d4101a"/>
<ellipse cx="490.4" cy="459.6" rx="2.95" ry="3.4" fill="#d4101a"/>
<ellipse cx="493.5" cy="465.3" rx="2.95" ry="3.4" fill="#d4101a"/>
<ellipse cx="495.8" cy="458.8" rx="2.95" ry="3.4" fill="#d4101a"/>
<ellipse cx="498.1" cy="456.5" rx="2.95" ry="3.4" fill="#d4101a"/>
<ellipse cx="501.2" cy="461.2" rx="2.95" ry="3.4" fill="#d4101a"/>
<line x1="443.5" y1="454.2" x2="515.0" y2="454.2" stroke="#c8141c" stroke-width="2.40"/>
<text x="1.1" y="390.3" font-size="16.50" font-weight="bold">D</text>
<text x="20.9" y="561.4" font-size="11.70" textLength="160.5" lengthAdjust="spacingAndGlyphs" transform="rotate(-90 20.9 561.4)">Platelet fluorescence (AU,E+6)</text>
<line x1="45.6" y1="399.2" x2="45.6" y2="548.9" stroke="#111" stroke-width="1.70"/>
<line x1="44.8" y1="548.1" x2="256.8" y2="548.1" stroke="#111" stroke-width="1.70"/>
<line x1="42.8" y1="526.6" x2="45.6" y2="526.6" stroke="#111" stroke-width="1.50"/>
<line x1="42.8" y1="505.2" x2="45.6" y2="505.2" stroke="#111" stroke-width="1.50"/>
<line x1="42.8" y1="483.8" x2="45.6" y2="483.8" stroke="#111" stroke-width="1.50"/>
<line x1="42.8" y1="462.3" x2="45.6" y2="462.3" stroke="#111" stroke-width="1.50"/>
<line x1="42.8" y1="440.9" x2="45.6" y2="440.9" stroke="#111" stroke-width="1.50"/>
<line x1="42.8" y1="419.4" x2="45.6" y2="419.4" stroke="#111" stroke-width="1.50"/>
<text x="41.1" y="508.8" font-size="10.20" text-anchor="end">2.0</text>
<text x="41.1" y="465.9" font-size="10.20" text-anchor="end">4.0</text>
<text x="41.1" y="423.0" font-size="10.20" text-anchor="end">6.0</text>
<line x1="45.3" y1="548.1" x2="45.3" y2="550.7" stroke="#111" stroke-width="1.50"/>
<text x="45.2" y="560.6" font-size="10.30" text-anchor="middle">0</text>
<line x1="89.6" y1="548.1" x2="89.6" y2="550.7" stroke="#111" stroke-width="1.50"/>
<text x="90.0" y="560.6" font-size="10.30" text-anchor="middle">50</text>
<line x1="133.5" y1="548.1" x2="133.5" y2="550.7" stroke="#111" stroke-width="1.50"/>
<text x="134.2" y="560.6" font-size="10.30" text-anchor="middle">100</text>
<line x1="177.4" y1="548.1" x2="177.4" y2="550.7" stroke="#111" stroke-width="1.50"/>
<text x="178.8" y="560.6" font-size="10.30" text-anchor="middle">150</text>
<line x1="221.3" y1="548.1" x2="221.3" y2="550.7" stroke="#111" stroke-width="1.50"/>
<text x="223.4" y="560.6" font-size="10.30" text-anchor="middle">200</text>
<text x="185.0" y="571.2" font-size="11.00" textLength="43.0" lengthAdjust="spacingAndGlyphs">seconds</text>
<path d="M45.2 547.8 L45.5 547.5 L45.9 547.2 L46.2 546.7 L46.5 546.5 L46.9 545.7 L47.2 545.4 L47.6 543.7 L47.9 543.8 L48.2 544.0 L48.6 543.1 L48.9 542.4 L49.4 542.6 L49.8 541.2 L50.2 541.3 L50.7 540.7 L51.1 540.8 L51.6 540.5 L52.0 539.4 L52.5 539.7 L53.0 539.1 L53.6 539.0 L54.1 539.7 L54.7 539.4 L55.2 538.8 L55.7 538.5 L56.3 539.6 L56.8 538.8 L57.4 539.7 L57.9 539.7 L58.6 539.0 L59.3 538.7 L60.0 539.2 L60.6 539.5 L61.2 538.4 L61.8 538.2 L62.4 538.4 L62.9 539.5 L63.3 539.8 L63.8 539.5 L64.2 540.9 L64.7 540.7 L65.3 540.6 L65.9 540.5 L66.5 539.7 L67.1 539.9 L67.5 540.9 L67.9 541.0 L68.2 541.8 L68.6 542.1 L69.0 541.6 L69.4 542.3 L69.9 541.7 L70.3 541.0 L70.8 540.6 L71.3 540.7 L71.5 539.5 L71.7 539.3 L71.9 539.2 L72.1 537.8 L72.3 538.2 L72.5 537.2 L72.7 536.6 L72.9 536.7 L73.1 535.7 L73.3 535.2 L73.4 534.4 L73.6 534.0 L73.7 533.8 L73.9 532.3 L74.0 533.0 L74.2 531.2 L74.3 531.6 L74.5 531.2 L74.6 529.5 L74.8 530.0 L74.9 529.0 L75.3 528.4 L75.7 528.3 L76.1 527.1 L76.5 527.4 L76.8 526.2 L77.0 525.9 L77.2 526.5 L77.5 524.9 L77.8 525.2 L78.0 524.3 L78.3 524.4 L78.7 524.0 L79.0 522.7 L79.4 522.3 L79.7 522.0 L80.1 521.9 L80.4 521.1 L80.7 520.0 L80.9 520.4 L81.2 519.9 L81.4 519.5 L81.7 517.8 L81.9 518.6 L82.2 516.9 L82.4 516.7 L82.7 516.4 L82.9 516.0 L83.2 515.9 L83.4 514.5 L83.7 514.8 L83.9 513.7 L84.1 512.8 L84.4 512.3 L84.6 511.5 L84.9 510.9 L85.1 510.9 L85.4 510.0 L85.8 510.3 L86.1 510.3 L86.5 508.7 L86.8 508.1 L87.2 509.0 L87.5 507.9 L87.9 507.3 L88.2 507.0 L88.5 506.2 L88.9 506.2 L89.2 506.1 L89.6 505.2 L89.9 504.7 L90.3 503.7 L90.6 503.9 L90.7 503.9 L90.9 502.1 L91.0 502.2 L91.1 502.1 L91.3 500.5 L91.4 500.8 L91.6 500.5 L91.7 499.5 L91.8 499.1 L92.0 497.6 L92.1 497.6 L92.1 497.0 L92.2 496.0 L92.2 496.4 L92.3 495.1 L92.3 494.8 L92.4 495.0 L92.4 494.2 L92.5 493.8 L92.5 492.6 L92.6 492.1 L92.6 491.8 L92.7 490.9 L92.7 490.1 L92.8 489.7 L92.8 488.8 L92.9 488.6 L92.9 488.2 L93.0 488.3 L93.2 487.7 L93.3 486.7 L93.5 485.9 L93.6 485.1 L93.8 484.2 L93.9 483.9 L94.1 484.0 L94.2 483.6 L94.4 482.3 L94.5 481.9 L94.6 481.7 L94.8 481.2 L94.9 480.5 L95.1 480.0 L95.2 479.6 L95.4 478.2 L95.5 478.4 L95.7 477.0 L95.8 476.8 L96.0 476.8 L96.1 475.7 L96.2 475.5 L96.3 474.2 L96.4 474.9 L96.5 473.8 L96.5 473.1 L96.6 471.4 L96.7 471.9 L96.8 470.8 L96.9 471.1 L97.0 470.1 L97.1 470.3 L97.2 469.4 L97.2 469.1 L97.3 467.7 L97.4 467.7 L97.5 467.3 L97.6 466.3 L97.7 466.4 L97.8 464.8 L97.9 465.2 L98.0 464.7 L98.1 463.7 L98.2 463.7 L98.3 463.1 L98.4 461.6 L98.6 462.2 L98.8 462.7 L98.9 462.5 L99.1 464.4 L99.3 465.1 L99.5 464.7 L99.6 465.6 L99.8 466.2 L100.0 466.3 L100.8 466.4 L100.9 466.3 L101.0 464.6 L101.2 465.3 L101.3 464.3 L101.4 463.9 L101.5 462.9 L101.7 462.7 L101.8 462.5 L101.9 461.7 L102.0 461.3 L102.1 459.3 L102.3 459.0 L102.4 459.0 L102.5 458.6 L102.6 458.4 L102.7 456.9 L102.7 457.3 L102.8 456.7 L102.9 455.0 L103.0 455.3 L103.0 454.2 L103.1 453.3 L103.2 453.0 L103.2 452.8 L103.3 452.0 L103.4 451.4 L103.5 450.6 L103.5 450.9 L103.6 450.2 L103.7 450.1 L103.8 449.5 L103.8 448.3 L103.9 449.0 L104.0 446.7 L104.1 446.9 L104.1 446.1 L104.2 445.9 L104.3 445.5 L104.4 444.2 L104.6 445.0 L104.7 443.5 L104.8 442.3 L105.0 442.8 L105.1 441.2 L105.2 441.5 L105.4 440.6 L105.5 440.3 L105.6 439.9 L105.8 440.1 L105.9 439.2 L106.0 437.8 L106.2 438.0 L106.3 437.1 L106.4 436.0 L106.6 435.0 L106.7 435.1 L107.0 435.8 L107.3 436.3 L107.5 437.6 L107.8 438.1 L108.1 437.7 L108.2 437.4 L108.4 436.3 L108.5 436.9 L108.6 434.5 L108.8 434.2 L108.9 434.6 L109.0 434.2 L109.1 432.7 L109.3 433.1 L109.4 433.1 L109.5 431.5 L109.7 431.1 L109.8 430.7 L109.9 430.7 L110.1 431.4 L110.2 433.3 L110.3 432.7 L110.4 434.4 L110.6 434.9 L110.7 434.8 L110.8 434.7 L111.0 436.7 L111.1 436.3 L111.2 436.7 L111.3 437.1 L111.5 439.0 L111.6 438.6 L111.7 439.1 L111.8 439.3 L111.9 440.2 L111.9 440.0 L112.0 441.6 L112.1 441.7 L112.2 442.0 L112.3 443.5 L112.4 444.1 L112.5 443.1 L112.6 444.6 L112.7 444.7 L112.7 446.5 L112.8 446.8 L112.9 446.2 L113.0 447.3 L113.2 446.3 L113.4 445.5 L113.6 446.6 L113.8 444.7 L114.1 444.8 L114.3 443.9 L114.5 443.7 L114.7 442.9 L115.2 442.7 L115.6 442.5 L116.0 440.9 L116.5 441.2 L116.8 441.2 L117.0 439.7 L117.3 439.6 L117.5 438.7 L117.8 438.0 L118.1 438.0 L118.3 437.3 L118.6 436.8 L118.8 437.0 L119.0 438.3 L119.2 438.5 L119.4 438.0 L119.6 438.9 L119.8 439.8 L120.0 441.3 L120.2 441.7 L120.4 441.6 L120.6 442.0 L121.1 440.7 L121.5 441.9 L122.0 440.8 L122.4 440.8 L122.9 440.3 L123.1 441.2 L123.4 441.6 L123.6 441.8 L123.8 443.2 L124.1 442.7 L124.3 443.2 L124.5 444.6 L124.7 443.9 L125.0 444.6 L125.2 445.5 L125.3 446.7 L125.5 445.7 L125.6 447.8 L125.7 448.1 L125.9 448.1 L126.0 448.3 L126.1 449.9 L126.2 450.7 L126.4 449.7 L126.5 450.9 L126.6 451.6 L126.8 452.0 L126.9 452.2 L127.0 452.4 L127.2 453.8 L127.3 454.2 L127.4 455.4 L127.6 454.4 L127.7 455.3 L127.8 457.0 L128.0 457.5 L128.1 457.8 L128.2 457.0 L128.3 459.0 L128.5 460.0 L128.6 460.6 L128.7 460.5 L128.9 459.8 L129.0 461.2 L129.2 462.4 L129.5 461.6 L129.7 463.0 L130.0 464.1 L130.2 464.1 L130.5 463.5 L130.7 464.7 L130.8 464.9 L130.9 466.7 L131.0 465.7 L131.2 467.3 L131.3 467.4 L131.4 467.5 L131.5 469.0 L131.6 468.5 L131.8 469.2 L131.9 470.3 L132.0 470.3 L132.1 471.7 L132.3 470.3 L132.4 470.7 L132.6 470.5 L132.8 470.2 L132.9 468.2 L133.1 468.2 L133.2 467.4 L133.4 467.5 L133.6 466.7 L133.7 467.0 L133.9 465.6 L134.3 464.9 L134.8 463.8 L135.2 464.6 L135.6 463.8 L136.0 463.7 L136.4 465.3 L136.8 465.6 L136.8 465.0 L136.9 465.3 L136.9 464.0 L137.0 463.6 L137.0 462.3 L137.0 462.3 L137.1 461.1 L137.1 461.5 L137.2 460.5 L137.2 459.2 L137.2 458.8 L137.3 458.5 L137.3 458.7 L137.3 457.0 L137.4 457.5 L137.4 456.8 L137.5 455.1 L137.5 455.7 L137.5 454.0 L137.6 453.5 L137.6 453.8 L137.7 452.5 L137.7 452.5 L138.3 453.3 L138.9 452.5 L139.5 452.5 L139.9 452.6 L140.2 454.4 L140.6 452.6 L141.0 455.2 L141.4 453.7 L141.7 454.5 L142.1 456.0 L142.5 457.9 L142.8 457.5 L143.2 456.7 L143.6 456.8 L144.0 459.9 L144.3 459.5 L144.7 459.5 L145.2 460.8 L145.7 459.1 L146.3 460.9 L146.8 460.4 L147.3 461.2 L147.7 460.9 L148.0 461.7 L148.4 463.0 L148.8 462.7 L149.2 463.4 L149.5 463.1 L149.9 464.7 L150.1 466.2 L150.3 466.2 L150.6 467.2 L150.8 466.7 L151.0 468.5 L151.2 468.0 L151.4 468.8 L151.7 469.2 L151.9 470.3 L152.1 470.1 L152.7 469.8 L153.4 468.9 L154.0 468.7 L154.7 469.2 L155.3 470.1 L155.8 469.0 L156.4 471.8 L156.9 470.9 L157.4 471.2 L157.6 472.5 L157.8 470.7 L158.0 472.7 L158.2 474.4 L158.4 474.2 L158.7 474.1 L158.9 474.7 L159.1 474.2 L159.3 474.8 L159.5 476.4 L159.6 476.0 L159.7 477.2 L159.8 477.8 L159.9 479.9 L160.0 478.3 L160.1 479.2 L160.2 479.8 L160.3 480.0 L160.4 481.0 L160.5 481.4 L160.6 482.8 L161.1 482.5 L161.6 480.8 L162.2 483.2 L162.7 481.7 L163.2 481.5 L163.8 483.4 L164.3 482.8 L164.8 483.0 L165.4 482.5 L165.9 482.8 L166.4 484.5 L166.9 482.4 L167.4 484.4 L168.0 483.6 L168.5 485.1 L169.0 484.9 L169.6 485.6 L170.3 483.9 L170.9 484.0 L171.6 483.5 L172.2 484.9 L172.6 484.5 L173.0 484.5 L173.5 485.9 L173.9 488.0 L174.3 487.0 L174.7 487.0 L175.1 487.2 L175.5 488.1 L175.9 487.9 L176.3 489.7 L176.7 490.1 L177.1 488.8 L177.5 490.2 L178.0 489.7 L178.6 491.2 L179.1 492.3 L179.6 491.7 L180.1 491.3 L180.6 493.2 L181.2 490.6 L181.7 492.3 L182.2 491.3 L182.7 493.8 L183.1 493.1 L183.6 492.4 L184.1 494.2 L184.6 495.9 L185.0 494.8 L185.5 494.7 L186.0 495.5 L186.5 494.6 L187.0 494.9 L187.6 497.7 L188.1 496.9 L188.6 498.6 L189.1 497.6 L189.3 495.7 L189.5 495.8 L189.8 494.7 L190.0 495.2 L190.2 493.6 L190.4 493.7 L190.6 493.6 L190.9 492.8 L191.1 491.5 L191.3 492.3 L191.9 490.9 L192.5 493.7 L193.1 491.3 L193.7 492.3 L194.3 492.0 L194.9 492.4 L195.5 492.3 L196.1 491.2 L196.7 492.1 L197.3 491.6 L197.9 493.1 L198.5 494.3 L199.1 493.5 L199.7 493.4 L200.2 494.6 L200.8 492.9 L201.3 492.5 L201.8 494.2 L202.4 494.2 L202.9 494.4 L203.2 494.1 L203.6 493.0 L203.9 493.2 L204.3 493.0 L204.7 493.1 L205.0 491.3 L205.3 491.2 L205.6 492.1 L205.9 493.7 L206.2 492.4 L206.5 492.5 L206.7 493.6 L207.0 493.4 L207.3 495.9 L207.6 496.5 L207.9 495.5 L208.2 496.5 L208.7 495.6 L209.3 495.7 L209.8 496.4 L210.3 496.1 L210.8 497.4 L211.4 498.1 L211.9 497.3 L212.4 496.9 L213.0 499.1 L213.5 498.7 L214.1 497.4 L214.6 498.0 L215.2 498.3 L215.8 498.7 L216.4 498.0 L216.9 499.0 L217.5 498.8 L218.1 500.2 L218.7 499.7 L219.2 500.8 L219.8 499.7 L220.3 500.3 L220.9 500.8 L221.4 500.4 L221.9 500.2 L222.5 501.5 L223.0 501.2 L223.5 502.3 L224.1 501.8 L224.6 501.9 L225.1 500.8 L225.7 502.6 L226.2 501.8 L226.8 501.7 L227.4 501.1 L228.1 501.2 L228.7 501.7 L229.3 502.9 L229.5 502.7 L229.7 504.5 L229.9 503.8 L230.1 503.7 L230.4 506.3 L230.6 506.3 L230.8 505.2 L231.0 505.8 L231.2 506.6 L231.4 508.2 L231.5 507.2 L231.6 508.1 L231.8 507.8 L231.9 506.2 L232.0 504.4 L232.1 504.5 L232.3 503.7 L232.4 503.0 L232.5 502.9 L233.1 501.5 L233.7 503.3 L234.2 504.2 L234.8 503.9 L235.4 502.1 L236.0 503.5 L236.6 502.5 L237.2 504.3 L237.7 503.6 L238.3 505.1 L238.9 503.9 L239.5 504.9 L240.0 503.0 L240.6 503.7 L241.2 505.5 L241.8 504.3 L242.3 504.3 L242.9 504.4 L243.5 505.5 L244.1 506.1 L244.6 505.0 L245.2 505.0 L245.8 506.3 L246.4 505.0 L247.0 503.3 L247.6 505.3 L248.2 504.0 L248.8 502.7 L249.4 503.9 L249.9 505.0 L250.4 501.9 L250.9 503.2 L251.5 502.6 L252.0 503.5 L252.5 501.8 L253.0 501.8" fill="none" stroke="#111" stroke-width="2.3" stroke-linejoin="round"/>
<path d="M45.2 547.8 L45.4 547.7 L45.6 547.2 L45.9 546.2 L46.1 545.3 L46.3 544.3 L46.5 544.8 L46.7 544.0 L47.0 543.9 L47.2 542.7 L47.4 542.4 L47.7 542.3 L47.9 541.0 L48.2 541.4 L48.5 540.8 L48.7 539.8 L49.0 539.5 L49.3 539.2 L49.5 537.9 L49.8 537.9 L50.2 538.4 L50.7 539.3 L51.1 538.9 L51.6 539.7 L51.8 539.6 L52.0 538.9 L52.3 538.6 L52.5 537.2 L52.7 536.2 L53.0 536.8 L53.2 536.3 L53.4 535.2 L53.6 534.5 L53.9 533.4 L54.1 533.0 L54.3 533.1 L54.5 532.0 L54.8 532.5 L55.0 531.3 L55.2 530.6 L55.6 529.6 L55.9 529.8 L56.3 528.8 L56.6 529.1 L57.0 527.9 L57.3 528.0 L57.5 526.8 L57.8 526.5 L58.1 526.1 L58.4 525.7 L58.6 525.4 L58.9 523.4 L59.2 523.4 L59.4 523.2 L59.7 522.5 L59.8 521.6 L59.8 521.5 L59.9 520.2 L59.9 520.9 L60.0 519.8 L60.0 518.6 L60.1 518.9 L60.2 517.8 L60.2 517.1 L60.3 517.0 L60.3 515.9 L60.4 515.5 L60.4 516.0 L60.5 515.1 L60.6 513.5 L60.6 514.2 L60.7 512.4 L60.7 512.4 L60.8 512.7 L60.8 511.7 L60.9 510.7 L61.0 510.2 L61.0 509.7 L61.1 508.7 L61.1 509.6 L61.2 507.5 L61.2 507.6 L61.3 507.5 L61.4 506.4 L61.4 506.8 L61.5 505.1 L61.5 505.7 L61.6 505.0 L61.6 504.1 L61.7 503.3 L61.7 504.5 L61.8 504.3 L61.8 505.5 L61.8 506.0 L61.8 506.1 L61.9 506.6 L61.9 507.5 L61.9 507.6 L61.9 507.6 L62.0 509.2 L62.0 509.0 L62.0 509.9 L62.1 510.9 L62.1 510.5 L62.1 510.8 L62.1 511.5 L62.2 512.8 L62.2 513.0 L62.2 513.4 L62.2 514.2 L62.3 515.5 L62.3 515.0 L62.3 515.8 L62.4 517.1 L62.4 517.2 L62.4 517.2 L62.4 518.1 L62.5 518.7 L62.5 518.7 L62.5 519.6 L62.5 520.0 L62.6 521.4 L62.6 521.2 L62.6 522.3 L62.7 523.3 L62.7 523.8 L62.7 523.5 L62.7 524.4 L62.8 524.5 L62.8 525.1 L62.8 525.8 L62.8 526.9 L62.9 527.6 L62.9 527.5 L63.0 526.6 L63.1 525.6 L63.2 525.7 L63.3 524.6 L63.3 524.0 L63.4 524.6 L63.5 523.0 L63.6 523.4 L63.7 522.2 L63.8 522.6 L63.9 521.9 L64.0 520.1 L64.0 519.7 L64.1 520.4 L64.2 519.3 L64.3 518.4 L64.4 518.0 L64.6 519.0 L64.8 519.5 L64.9 519.6 L65.1 520.0 L65.3 520.0 L65.5 520.9 L65.6 521.1 L65.8 522.4 L66.0 522.7 L66.3 522.3 L66.5 521.0 L66.8 521.2 L67.0 519.8 L67.3 519.3 L67.5 519.6 L67.8 518.8 L68.3 519.2 L68.9 520.4 L69.4 520.3 L69.6 520.0 L69.8 519.5 L70.0 518.1 L70.1 518.7 L70.3 516.9 L70.5 517.3 L70.7 517.2 L70.9 516.6 L71.1 516.1 L71.2 514.8 L71.4 514.7 L71.6 514.3 L71.8 513.3 L72.1 512.2 L72.3 513.0 L72.6 512.4 L72.8 511.1 L73.1 511.1 L73.3 510.1 L73.6 509.3 L73.8 509.5 L74.1 508.6 L74.2 507.4 L74.3 508.0 L74.5 507.8 L74.6 506.1 L74.7 506.6 L74.8 504.7 L75.0 505.4 L75.1 503.9 L75.2 504.5 L75.3 503.1 L75.5 503.4 L75.6 501.4 L75.7 500.9 L75.8 501.6 L76.0 500.8 L76.1 500.0 L76.2 500.6 L76.3 500.4 L76.4 501.2 L76.5 502.1 L76.6 502.1 L76.7 504.2 L76.8 504.4 L76.9 505.3 L77.0 505.4 L77.2 505.4 L77.3 505.6 L77.4 507.2 L77.5 506.7 L77.6 508.0 L77.7 508.4 L77.8 509.1 L77.9 509.0 L78.0 510.2 L78.2 509.0 L78.4 509.2 L78.5 507.9 L78.7 508.2 L78.9 507.0 L79.1 506.7 L79.2 506.0 L79.4 506.1 L79.6 505.5 L79.8 504.8 L80.0 504.0 L80.1 503.5 L80.3 503.5 L80.5 503.5 L80.7 502.2 L80.8 501.3 L81.0 501.0 L81.2 500.8 L81.4 501.0 L81.6 502.1 L81.8 503.0 L82.0 503.3 L82.1 503.2 L82.3 504.0 L82.5 504.7 L82.7 505.5 L82.8 504.9 L82.9 504.2 L82.9 504.6 L83.0 503.4 L83.1 503.0 L83.2 502.5 L83.3 501.9 L83.3 501.6 L83.4 500.3 L83.5 500.3 L83.6 500.2 L83.7 498.4 L83.7 498.6 L83.8 497.6 L83.9 496.5 L84.0 496.0 L84.1 496.6 L84.1 495.0 L84.2 495.4 L84.3 494.5 L84.4 493.3 L84.5 493.2 L84.5 492.1 L84.6 492.4 L84.7 492.2 L84.8 490.8 L84.9 490.8 L84.9 490.8 L85.0 489.2 L85.1 489.0 L85.2 488.8 L85.3 488.5 L85.3 486.8 L85.4 487.1 L85.5 485.6 L85.6 485.1 L85.7 485.9 L85.7 483.9 L85.8 484.7 L85.9 483.5 L86.0 483.3 L86.1 482.7 L86.2 482.2 L86.3 481.5 L86.4 480.4 L86.5 480.1 L86.7 479.1 L86.8 479.6 L86.9 478.9 L87.0 478.4 L87.1 476.9 L87.2 477.0 L87.3 475.9 L87.4 475.7 L87.5 475.6 L87.6 474.9 L87.7 474.8 L87.8 473.7 L87.9 473.1 L88.0 472.7 L88.1 471.7 L88.3 470.5 L88.4 470.8 L88.6 469.3 L88.8 469.3 L88.9 468.3 L89.1 469.1 L89.2 467.1 L89.4 468.0 L89.6 467.5 L89.7 466.1 L89.9 466.2 L90.0 464.4 L90.2 464.0 L90.4 463.2 L90.5 462.8 L90.7 462.9 L90.9 461.6 L91.1 462.4 L91.3 460.7 L91.6 461.0 L91.8 460.0 L92.0 459.3 L92.2 459.2 L92.4 458.3 L92.7 459.1 L92.9 457.6 L93.1 457.5 L93.3 456.8 L93.6 456.4 L93.9 455.9 L94.2 455.2 L94.4 454.3 L94.7 453.5 L95.0 454.4 L95.3 452.4 L95.6 452.5 L95.8 452.9 L96.1 454.1 L96.3 454.2 L96.6 455.4 L96.8 455.6 L97.1 455.5 L97.3 456.0 L97.4 454.7 L97.5 455.1 L97.6 454.3 L97.7 454.5 L97.8 453.3 L97.9 453.1 L98.0 452.8 L98.2 451.6 L98.3 451.8 L98.4 451.4 L98.5 449.3 L98.6 450.3 L98.7 449.7 L98.8 449.1 L98.9 447.5 L99.0 447.3 L99.1 446.3 L99.2 445.5 L99.3 445.4 L99.4 445.8 L99.6 444.3 L99.7 443.0 L99.8 443.0 L99.9 442.0 L100.0 442.6 L100.1 442.3 L100.2 442.1 L100.3 439.8 L100.4 439.9 L100.5 438.8 L100.7 439.8 L100.8 439.1 L100.9 437.9 L101.0 438.3 L101.1 436.8 L101.2 436.3 L101.3 436.2 L101.4 435.1 L101.5 434.3 L101.6 435.0 L101.7 434.1 L101.8 433.0 L101.9 433.0 L102.1 432.0 L102.2 431.7 L102.3 429.7 L102.4 429.3 L102.5 428.7 L102.6 429.1 L102.7 428.8 L102.8 427.1 L102.9 427.2 L103.3 426.8 L103.8 425.6 L104.2 426.3 L104.6 425.5 L104.7 425.5 L104.9 423.5 L105.0 424.8 L105.1 423.6 L105.2 421.9 L105.4 421.8 L105.5 420.9 L105.6 421.4 L105.8 421.3 L105.9 419.2 L106.0 418.7 L106.1 419.0 L106.3 418.9 L106.4 417.6 L106.6 417.5 L106.8 416.4 L107.0 415.1 L107.2 415.5 L107.3 414.6 L107.5 414.7 L107.7 413.7 L107.9 413.4 L108.1 412.4 L108.2 412.8 L108.3 411.6 L108.4 411.6 L108.5 409.8 L108.5 408.7 L108.6 409.9 L108.7 407.6 L108.8 409.0 L108.9 407.4 L109.0 406.0 L109.1 405.9 L109.2 406.3 L109.3 405.1 L109.4 405.0 L109.4 403.4 L109.5 404.3 L109.6 402.8 L109.7 403.2 L109.8 402.0 L109.9 401.8 L110.1 403.4 L110.2 403.6 L110.3 404.0 L110.4 403.8 L110.6 405.4 L110.7 406.6 L110.8 405.6 L110.9 406.9 L111.1 406.6 L111.2 408.1 L111.2 409.6 L111.3 410.1 L111.3 410.1 L111.4 410.3 L111.4 410.0 L111.4 410.7 L111.5 412.4 L111.5 413.1 L111.6 414.1 L111.6 414.4 L111.6 414.1 L111.7 414.3 L111.7 415.4 L111.8 415.6 L111.8 416.5 L111.8 417.7 L111.9 417.4 L111.9 419.0 L111.9 419.1 L112.0 418.3 L112.0 420.2 L112.1 420.6 L112.1 421.1 L112.1 420.4 L112.2 422.7 L112.2 422.5 L112.3 423.1 L112.3 423.0 L112.3 423.3 L112.4 423.8 L112.4 424.7 L112.5 425.5 L112.5 426.4 L112.8 426.3 L113.1 426.6 L113.3 428.6 L113.6 429.1 L113.9 430.0 L114.2 429.8 L114.3 428.7 L114.4 429.1 L114.5 428.3 L114.6 426.8 L114.7 427.8 L114.9 426.2 L115.0 425.3 L115.1 424.7 L115.2 425.7 L115.3 423.7 L115.4 423.7 L115.5 424.0 L115.7 424.9 L115.8 425.1 L115.9 426.2 L116.0 425.6 L116.2 426.9 L116.3 427.8 L116.4 428.4 L116.5 428.9 L116.7 428.8 L116.8 429.8 L117.0 430.6 L117.2 431.8 L117.3 431.4 L117.5 432.3 L117.7 433.2 L117.8 432.6 L118.0 433.2 L118.2 434.2 L118.4 434.6 L118.6 432.6 L118.8 432.3 L119.0 431.6 L119.1 432.3 L119.3 430.8 L119.5 430.9 L119.7 428.9 L119.9 429.0 L120.1 428.0 L120.2 428.2 L120.4 426.9 L120.5 427.1 L120.7 426.2 L120.8 424.8 L121.0 424.3 L121.1 424.4 L121.2 424.0 L121.4 422.7 L121.5 422.3 L121.7 421.2 L121.8 421.2 L122.0 421.1 L122.2 421.3 L122.3 422.0 L122.5 422.9 L122.7 424.0 L122.9 424.3 L123.1 424.9 L123.2 424.5 L123.4 425.5 L123.5 426.0 L123.6 427.0 L123.7 427.9 L123.8 427.2 L124.0 427.3 L124.1 427.9 L124.2 429.4 L124.3 430.6 L124.4 429.7 L124.5 431.5 L124.6 431.8 L124.7 432.8 L124.8 433.4 L124.9 432.4 L125.1 434.3 L125.2 433.5 L125.3 434.0 L125.4 435.1 L125.5 435.9 L125.7 436.4 L125.8 436.1 L126.0 437.1 L126.2 437.5 L126.3 437.9 L126.5 438.4 L126.6 438.8 L126.8 439.8 L127.0 440.5 L127.1 441.3 L127.3 442.0 L127.4 442.9 L127.6 443.3 L127.7 443.6 L127.8 443.8 L128.0 444.9 L128.1 444.6 L128.2 445.1 L128.3 445.5 L128.5 447.2 L128.6 446.7 L128.7 447.4 L128.9 448.2 L129.0 449.0 L129.2 449.7 L129.3 450.4 L129.5 450.8 L129.6 451.3 L129.8 451.1 L130.0 453.1 L130.1 453.2 L130.3 453.1 L130.5 453.6 L130.6 454.5 L130.8 454.2 L130.9 455.7 L131.1 456.0 L131.4 456.3 L131.8 454.7 L132.1 454.5 L132.4 453.5 L132.7 454.3 L133.1 452.8 L133.4 452.5 L133.9 451.9 L134.4 452.2 L135.0 451.2 L135.5 451.9 L136.0 450.7 L136.4 451.0 L136.7 451.9 L137.1 451.8 L137.5 452.9 L137.9 453.1 L138.2 452.9 L138.6 454.2 L138.8 455.5 L138.9 454.6 L139.1 456.0 L139.2 456.7 L139.4 456.9 L139.6 457.1 L139.7 457.9 L139.9 459.5 L140.1 457.7 L140.2 460.7 L140.4 460.5 L140.5 460.7 L140.7 461.7 L140.9 462.2 L141.0 463.3 L141.2 462.9 L141.5 464.7 L141.8 463.9 L142.2 463.9 L142.5 464.4 L142.8 466.5 L143.1 465.7 L143.4 465.1 L143.7 467.0 L144.1 466.2 L144.4 467.3 L144.7 468.2 L144.9 469.1 L145.2 469.5 L145.4 469.8 L145.7 471.1 L145.9 471.0 L146.2 472.5 L146.4 472.5 L146.7 471.5 L146.9 473.4 L147.2 472.7 L147.4 474.9 L147.7 474.4 L147.9 474.4 L148.2 475.1 L148.3 474.7 L148.5 477.2 L148.6 476.3 L148.8 475.9 L148.9 478.7 L149.1 477.0 L149.2 477.7 L149.4 478.2 L149.6 480.5 L149.7 480.8 L149.8 481.1 L150.0 481.7 L150.3 483.4 L150.6 482.6 L150.8 482.4 L151.1 485.1 L151.4 483.1 L151.7 484.7 L152.1 484.0 L152.4 485.1 L152.8 487.8 L153.2 487.0 L153.6 487.2 L154.0 487.4 L154.4 487.8 L154.8 488.2 L155.1 489.7 L155.5 489.8 L155.9 489.2 L156.3 490.2 L156.5 489.9 L156.7 492.1 L157.0 492.0 L157.2 492.3 L157.4 492.0 L157.6 494.7 L157.8 494.0 L158.1 495.6 L158.3 495.5 L158.5 495.5 L158.8 495.4 L159.2 493.1 L159.6 495.1 L159.9 494.4 L160.2 491.6 L160.6 492.3 L161.0 490.7 L161.3 491.9 L161.7 491.4 L162.0 489.6 L162.4 491.3 L162.7 488.4 L163.1 489.2 L163.4 488.5 L163.8 488.1 L164.3 487.3 L164.8 487.9 L165.4 486.9 L165.9 487.4 L166.4 487.1 L166.9 486.0 L167.4 484.4 L168.0 485.1 L168.5 485.6 L169.0 484.7 L169.6 485.4 L170.1 484.9 L170.4 483.0 L170.8 482.7 L171.1 483.3 L171.5 482.0 L171.8 481.4 L172.2 481.7 L172.3 482.0 L172.5 483.1 L172.6 483.9 L172.7 484.3 L172.9 484.6 L173.0 485.0 L173.2 486.8 L173.3 487.4 L173.4 488.1 L173.6 488.8 L173.7 488.1 L173.8 488.0 L174.0 486.1 L174.1 487.0 L174.2 485.2 L174.4 484.7 L174.5 484.4 L174.6 482.8 L174.7 483.4 L174.9 482.1 L175.0 481.7 L175.1 481.6 L175.3 482.0 L175.4 480.7 L175.6 481.7 L175.8 481.2 L175.9 482.9 L176.1 482.5 L176.3 482.9 L176.4 483.6 L176.6 483.8 L176.8 483.9 L177.0 486.7 L177.2 486.2 L177.3 486.9 L177.5 487.0 L177.8 487.8 L178.2 488.1 L178.6 489.0 L178.9 487.8 L179.2 488.4 L179.6 490.2 L180.1 490.5 L180.7 490.5 L181.2 489.4 L181.7 490.1 L182.3 490.6 L182.8 491.3 L183.2 493.0 L183.6 493.1 L184.1 491.3 L184.5 492.7 L184.9 493.4 L185.0 492.4 L185.2 491.3 L185.3 491.1 L185.5 492.5 L185.6 491.7 L185.7 489.4 L185.9 490.2 L186.0 487.8 L186.2 488.7 L186.3 486.6 L186.4 487.6 L186.6 486.9 L186.7 487.4 L186.9 485.7 L187.0 484.9 L187.3 486.6 L187.7 485.2 L188.1 486.8 L188.4 486.2 L188.8 486.4 L189.1 488.1 L189.5 489.9 L189.9 487.6 L190.3 488.9 L190.7 489.2 L191.1 489.3 L191.5 491.5 L191.9 491.6 L192.3 491.3 L192.8 491.3 L193.2 492.2 L193.7 493.3 L194.2 491.4 L194.6 493.5 L195.1 494.4 L195.6 494.0 L196.0 494.1 L196.5 494.4 L197.0 494.0 L197.6 494.0 L198.1 494.3 L198.7 495.1 L199.2 495.1 L199.7 496.8 L200.3 495.3 L200.8 496.5 L201.3 495.8 L201.7 498.0 L202.2 497.4 L202.7 496.8 L203.1 499.2 L203.6 497.3 L204.1 498.6 L204.5 499.1 L205.0 499.7 L205.6 499.8 L206.1 499.0 L206.7 500.9 L207.3 499.9 L207.9 499.2 L208.4 500.1 L209.0 499.4 L209.6 499.9 L210.2 500.0 L210.7 499.0 L211.3 499.7 L211.8 500.6 L212.4 498.2 L212.9 500.4 L213.4 498.8 L214.0 498.8 L214.5 497.5 L215.0 498.5 L215.6 497.8 L216.1 498.4 L216.6 498.5 L217.2 496.7 L217.7 497.6 L218.3 496.5 L218.9 498.9 L219.5 497.0 L220.1 498.4 L220.7 498.7 L221.3 498.9 L221.9 498.2 L222.4 497.1 L222.9 499.2 L223.3 500.0 L223.8 498.1 L224.3 498.3 L224.8 501.0 L225.2 500.8 L225.7 501.1 L226.2 500.8 L226.8 501.7 L227.4 501.4 L228.0 500.4 L228.6 500.4 L229.2 500.2 L229.8 502.1 L230.4 501.8 L231.0 502.3 L231.6 503.2 L232.2 501.1 L232.8 500.8 L233.4 501.5 L234.0 503.0 L234.6 501.8 L235.1 501.2 L235.7 503.1 L236.2 502.6 L236.8 503.1 L237.3 501.4 L237.8 503.5 L238.4 502.5 L238.9 502.9 L239.5 503.6 L240.1 501.6 L240.7 502.3 L241.3 503.1 L241.9 502.3 L242.5 503.0 L243.1 502.9 L243.7 501.6 L244.3 501.9 L244.9 502.8 L245.5 501.8 L246.1 503.5 L246.7 501.6 L247.3 501.8 L247.9 501.2 L248.4 501.3 L249.0 501.9 L249.6 500.9 L250.2 502.6 L250.7 500.4 L251.3 501.3 L251.9 502.0 L252.4 500.3 L253.0 500.8" fill="none" stroke="#c8141c" stroke-width="2.3" stroke-linejoin="round"/>
<text x="0.7" y="230.3" font-size="16.50" font-weight="bold">B</text>
<text x="13.1" y="339.6" font-size="12.20" textLength="33.6" lengthAdjust="spacingAndGlyphs">A1-A1</text>
<text x="74.2" y="228.3" font-size="12.50" text-anchor="middle">0 s</text>
<use href="#m1" x="49.3" y="235.8"/>
<use href="#m2" x="49.3" y="304.4"/>
<text x="126.2" y="228.3" font-size="12.50" text-anchor="middle">15 s</text>
<use href="#m1" x="101.3" y="235.8"/>
<ellipse cx="121.6" cy="263.6" rx="10.5" ry="8.0" fill="#6fb0b0" opacity="0.2" filter="url(#sb)"/>
<ellipse cx="121.6" cy="261.1" rx="5.5" ry="4.5" fill="#9c0006"/>
<ellipse cx="121.3" cy="260.8" rx="4.6" ry="3.6" fill="#d8000c"/>
<use href="#m2" x="101.3" y="304.4"/>
<text x="178.2" y="228.3" font-size="12.50" text-anchor="middle">30 s</text>
<use href="#m1" x="153.3" y="235.8"/>
<ellipse cx="175.4" cy="266.3" rx="12.0" ry="10.8" fill="#6fb0b0" opacity="0.2" filter="url(#sb)"/>
<ellipse cx="175.4" cy="263.8" rx="7.0" ry="7.3" fill="#9c0006"/>
<ellipse cx="175.1" cy="263.5" rx="6.1" ry="6.4" fill="#d8000c"/>
<use href="#m2" x="153.3" y="304.4"/>
<ellipse cx="176.0" cy="340.9" rx="7.0" ry="5.0" fill="#6fb0b0" opacity="0.2" filter="url(#sb)"/>
<ellipse cx="176.0" cy="338.4" rx="3.0" ry="2.0" fill="#a80008"/>
<ellipse cx="175.8" cy="338.2" rx="2.2" ry="1.2" fill="#dc000c"/>
<text x="230.3" y="228.3" font-size="12.50" text-anchor="middle">45 s</text>
<use href="#m1" x="205.4" y="235.8"/>
<ellipse cx="227.7" cy="266.3" rx="13.5" ry="10.1" fill="#6fb0b0" opacity="0.2" filter="url(#sb)"/>
<ellipse cx="227.7" cy="263.8" rx="8.5" ry="6.6" fill="#9c0006"/>
<ellipse cx="227.4" cy="263.5" rx="7.6" ry="5.7" fill="#d8000c"/>
<use href="#m2" x="205.4" y="304.4"/>
<ellipse cx="232.3" cy="337.1" rx="10.0" ry="8.5" fill="#6fb0b0" opacity="0.2" filter="url(#sb)"/>
<ellipse cx="232.3" cy="334.6" rx="6.0" ry="5.5" fill="#a80008"/>
<ellipse cx="232.1" cy="334.4" rx="5.2" ry="4.7" fill="#dc000c"/>
<text x="282.3" y="228.3" font-size="12.50" text-anchor="middle">60 s</text>
<use href="#m1" x="257.4" y="235.8"/>
<ellipse cx="281.0" cy="266.5" rx="14.6" ry="10.9" fill="#6fb0b0" opacity="0.2" filter="url(#sb)"/>
<ellipse cx="281.0" cy="264.0" rx="9.6" ry="7.4" fill="#9c0006"/>
<ellipse cx="280.7" cy="263.7" rx="8.7" ry="6.5" fill="#d8000c"/>
<use href="#m2" x="257.4" y="304.4"/>
<ellipse cx="285.0" cy="337.5" rx="11.0" ry="9.5" fill="#6fb0b0" opacity="0.2" filter="url(#sb)"/>
<ellipse cx="285.0" cy="335.0" rx="7.0" ry="6.5" fill="#a80008"/>
<ellipse cx="284.8" cy="334.8" rx="6.2" ry="5.7" fill="#dc000c"/>
<text x="334.3" y="228.3" font-size="12.50" text-anchor="middle">90 s</text>
<use href="#m1" x="309.4" y="235.8"/>
<ellipse cx="331.7" cy="264.7" rx="12.0" ry="8.5" fill="#6fb0b0" opacity="0.2" filter="url(#sb)"/>
<ellipse cx="331.7" cy="262.2" rx="7.0" ry="5.0" fill="#9c0006"/>
<ellipse cx="331.4" cy="261.9" rx="6.1" ry="4.1" fill="#d8000c"/>
<use href="#m2" x="309.4" y="304.4"/>
<ellipse cx="333.4" cy="339.5" rx="8.5" ry="6.7" fill="#6fb0b0" opacity="0.2" filter="url(#sb)"/>
<ellipse cx="333.4" cy="337.0" rx="4.5" ry="3.7" fill="#a80008"/>
<ellipse cx="333.2" cy="336.8" rx="3.7" ry="2.9" fill="#dc000c"/>
<text x="386.3" y="228.3" font-size="12.50" text-anchor="middle">120 s</text>
<use href="#m1" x="361.4" y="235.8"/>
<ellipse cx="383.5" cy="264.2" rx="12.5" ry="8.1" fill="#6fb0b0" opacity="0.2" filter="url(#sb)"/>
<ellipse cx="383.5" cy="261.7" rx="7.5" ry="4.6" fill="#9c0006"/>
<ellipse cx="383.2" cy="261.4" rx="6.6" ry="3.7" fill="#d8000c"/>
<use href="#m2" x="361.4" y="304.4"/>
<ellipse cx="385.0" cy="340.2" rx="7.9" ry="6.9" fill="#6fb0b0" opacity="0.2" filter="url(#sb)"/>
<ellipse cx="385.0" cy="337.7" rx="3.9" ry="3.9" fill="#a80008"/>
<ellipse cx="384.8" cy="337.5" rx="3.1" ry="3.1" fill="#dc000c"/>
<text x="438.3" y="228.3" font-size="12.50" text-anchor="middle">180 s</text>
<use href="#m1" x="413.4" y="235.8"/>
<ellipse cx="434.7" cy="264.2" rx="12.1" ry="8.1" fill="#6fb0b0" opacity="0.2" filter="url(#sb)"/>
<ellipse cx="434.7" cy="261.7" rx="7.1" ry="4.6" fill="#9c0006"/>
<ellipse cx="434.4" cy="261.4" rx="6.2" ry="3.7" fill="#d8000c"/>
<use href="#m2" x="413.4" y="304.4"/>
<ellipse cx="438.5" cy="340.5" rx="8.3" ry="6.2" fill="#6fb0b0" opacity="0.2" filter="url(#sb)"/>
<ellipse cx="438.5" cy="338.0" rx="4.3" ry="3.2" fill="#a80008"/>
<ellipse cx="438.3" cy="337.8" rx="3.5" ry="2.4" fill="#dc000c"/>
<text x="490.4" y="228.3" font-size="12.50" text-anchor="middle">240 s</text>
<use href="#m1" x="465.5" y="235.8"/>
<ellipse cx="486.6" cy="263.7" rx="11.8" ry="7.6" fill="#6fb0b0" opacity="0.2" filter="url(#sb)"/>
<ellipse cx="486.6" cy="261.2" rx="6.8" ry="4.1" fill="#9c0006"/>
<ellipse cx="486.3" cy="260.9" rx="5.9" ry="3.2" fill="#d8000c"/>
<use href="#m2" x="465.5" y="304.4"/>
<ellipse cx="487.2" cy="341.1" rx="7.5" ry="5.6" fill="#6fb0b0" opacity="0.2" filter="url(#sb)"/>
<ellipse cx="487.2" cy="338.6" rx="3.5" ry="2.6" fill="#a80008"/>
<ellipse cx="487.0" cy="338.4" rx="2.7" ry="1.8" fill="#dc000c"/>
</svg>
</body></html>
